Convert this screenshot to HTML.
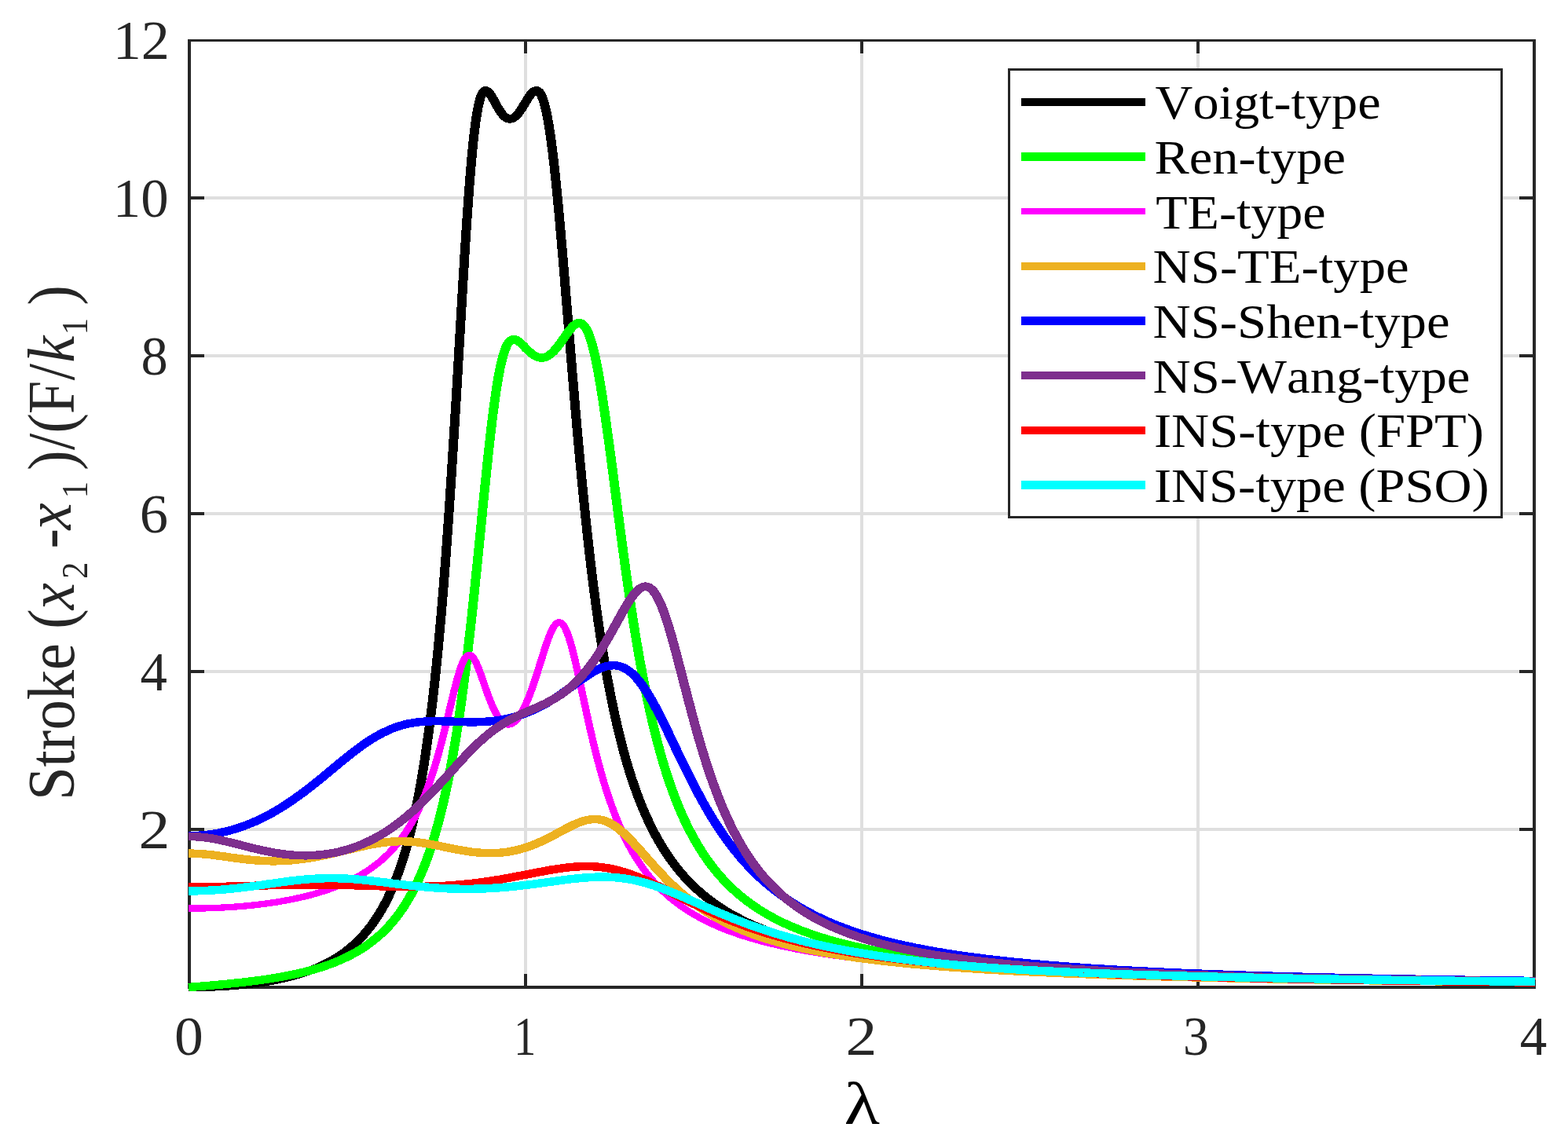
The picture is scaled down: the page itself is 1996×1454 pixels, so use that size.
<!DOCTYPE html>
<html lang="en"><head><meta charset="utf-8"><title>Stroke frequency response</title>
<style>html,body{margin:0;padding:0;background:#fff}svg{display:block}text{font-family:"Liberation Serif","DejaVu Serif",serif}</style></head><body>
<svg width="1996" height="1454" viewBox="0 0 1996 1454">
<rect x="0" y="0" width="1996" height="1454" fill="#ffffff"/>
<g fill="#dfdfdf" shape-rendering="crispEdges"><rect x="667" y="53" width="4" height="1202"/><rect x="1095" y="53" width="4" height="1202"/><rect x="1523" y="53" width="4" height="1202"/><rect x="243" y="1054" width="1708" height="4"/><rect x="243" y="853" width="1708" height="4"/><rect x="243" y="652" width="1708" height="4"/><rect x="243" y="451" width="1708" height="4"/><rect x="243" y="250" width="1708" height="4"/></g>
<g fill="#262626" shape-rendering="crispEdges"><rect x="239" y="50" width="4" height="1209"/><rect x="1951" y="50" width="4" height="1209"/><rect x="239" y="50" width="1716" height="3"/><rect x="239" y="1255" width="1716" height="4"/><rect x="667" y="1240" width="4" height="15"/><rect x="667" y="53" width="4" height="15"/><rect x="1095" y="1240" width="4" height="15"/><rect x="1095" y="53" width="4" height="15"/><rect x="1523" y="1240" width="4" height="15"/><rect x="1523" y="53" width="4" height="15"/><rect x="243" y="1054" width="17" height="4"/><rect x="1934" y="1054" width="17" height="4"/><rect x="243" y="853" width="17" height="4"/><rect x="1934" y="853" width="17" height="4"/><rect x="243" y="652" width="17" height="4"/><rect x="1934" y="652" width="17" height="4"/><rect x="243" y="451" width="17" height="4"/><rect x="1934" y="451" width="17" height="4"/><rect x="243" y="250" width="17" height="4"/><rect x="1934" y="250" width="17" height="4"/></g>
<g fill="none" stroke-linejoin="round" stroke-linecap="butt" shape-rendering="crispEdges" transform="scale(1.14 1)">
<polyline stroke="#000000" stroke-width="10.5" points="210.5,1257.0 211.4,1257.0 212.9,1257.0 214.4,1257.0 215.9,1257.0 217.4,1257.0 218.9,1257.0 220.4,1256.9 221.9,1256.9 223.4,1256.9 224.9,1256.8 226.4,1256.8 227.9,1256.8 229.4,1256.7 230.9,1256.7 232.4,1256.6 233.9,1256.6 235.4,1256.5 236.9,1256.4 238.4,1256.4 239.9,1256.3 241.4,1256.2 242.9,1256.1 244.4,1256.0 245.9,1256.0 247.4,1255.9 248.9,1255.8 250.4,1255.7 252.0,1255.5 253.5,1255.4 255.0,1255.3 256.5,1255.2 258.0,1255.1 259.5,1254.9 261.0,1254.8 262.5,1254.7 264.0,1254.5 265.5,1254.4 267.0,1254.2 268.5,1254.0 270.0,1253.9 271.5,1253.7 273.0,1253.5 274.5,1253.3 276.0,1253.2 277.5,1253.0 279.0,1252.8 280.5,1252.6 282.0,1252.3 283.5,1252.1 285.0,1251.9 286.5,1251.7 288.0,1251.4 289.5,1251.2 291.0,1250.9 292.5,1250.7 294.0,1250.4 295.5,1250.2 297.0,1249.9 298.5,1249.6 300.0,1249.3 301.5,1249.0 303.0,1248.7 304.5,1248.4 306.0,1248.1 307.5,1247.7 309.0,1247.4 310.5,1247.0 312.0,1246.7 313.5,1246.3 315.0,1245.9 316.5,1245.6 318.0,1245.2 319.5,1244.8 321.0,1244.3 322.5,1243.9 324.0,1243.5 325.5,1243.0 327.0,1242.6 328.5,1242.1 330.0,1241.6 331.5,1241.1 333.0,1240.6 334.5,1240.1 336.0,1239.6 337.6,1239.0 339.1,1238.5 340.6,1237.9 342.1,1237.3 343.6,1236.7 345.1,1236.1 346.6,1235.5 348.1,1234.8 349.6,1234.1 351.1,1233.5 352.6,1232.8 354.1,1232.0 355.6,1231.3 357.1,1230.6 358.6,1229.8 360.1,1229.0 361.6,1228.2 363.1,1227.3 364.6,1226.5 366.1,1225.6 367.6,1224.7 369.1,1223.7 370.6,1222.8 372.1,1221.8 373.6,1220.8 375.1,1219.8 376.6,1218.7 378.1,1217.6 379.6,1216.5 381.1,1215.3 382.6,1214.1 384.1,1212.9 385.6,1211.6 387.1,1210.3 388.6,1209.0 390.1,1207.6 391.6,1206.2 393.1,1204.7 394.6,1203.2 396.1,1201.7 397.6,1200.1 399.1,1198.5 400.6,1196.8 402.1,1195.0 403.6,1193.2 405.1,1191.4 406.6,1189.5 408.1,1187.5 409.6,1185.5 411.1,1183.4 412.6,1181.2 414.1,1179.0 415.6,1176.7 417.1,1174.3 418.6,1171.8 420.1,1169.2 421.6,1166.6 423.2,1163.8 424.7,1161.0 426.2,1158.1 427.7,1155.1 429.2,1151.9 430.7,1148.6 432.2,1145.3 433.7,1141.8 435.2,1138.1 436.7,1134.4 438.2,1130.5 439.7,1126.4 441.2,1122.2 442.7,1117.8 444.2,1113.2 445.7,1108.5 447.2,1103.6 448.7,1098.4 450.2,1093.1 451.7,1087.5 453.2,1081.7 454.7,1075.7 456.2,1069.4 457.7,1062.8 459.2,1055.9 460.7,1048.7 462.2,1041.2 463.7,1033.4 465.2,1025.2 466.7,1016.7 468.2,1007.7 469.7,998.3 471.2,988.5 472.7,978.2 474.2,967.4 475.7,956.1 477.2,944.3 478.7,931.8 480.2,918.8 481.7,905.1 483.2,890.8 484.7,875.7 486.2,859.9 487.7,843.3 489.2,826.0 490.7,807.7 492.2,788.7 493.7,768.7 495.2,747.8 496.7,725.9 498.2,703.1 499.7,679.4 501.2,654.7 502.7,629.2 504.2,602.7 505.7,575.5 507.2,547.5 508.8,519.0 510.3,489.9 511.8,460.5 513.3,431.1 514.8,401.7 516.3,372.6 517.8,344.1 519.3,316.5 520.8,290.0 522.3,264.9 523.8,241.4 525.3,219.7 526.8,200.0 528.3,182.5 529.8,167.1 531.3,153.9 532.8,142.9 534.3,133.9 535.8,126.9 537.3,121.7 538.8,118.2 540.3,116.1 541.8,115.3 543.3,115.5 544.8,116.6 546.3,118.4 547.8,120.7 549.3,123.4 550.8,126.4 552.3,129.5 553.8,132.6 555.3,135.7 556.8,138.6 558.3,141.3 559.8,143.8 561.3,146.0 562.8,147.8 564.3,149.3 565.8,150.4 567.3,151.1 568.8,151.5 570.3,151.4 571.8,151.0 573.3,150.2 574.8,149.0 576.3,147.5 577.8,145.7 579.3,143.6 580.8,141.2 582.3,138.7 583.8,136.0 585.3,133.2 586.8,130.4 588.3,127.5 589.8,124.8 591.3,122.3 592.8,120.0 594.4,118.0 595.9,116.5 597.4,115.6 598.9,115.2 600.4,115.7 601.9,116.9 603.4,119.1 604.9,122.4 606.4,126.7 607.9,132.2 609.4,139.0 610.9,147.0 612.4,156.3 613.9,167.0 615.4,178.9 616.9,192.1 618.4,206.5 619.9,222.0 621.4,238.6 622.9,256.1 624.4,274.5 625.9,293.6 627.4,313.3 628.9,333.5 630.4,354.0 631.9,374.9 633.4,395.8 634.9,416.8 636.4,437.8 637.9,458.7 639.4,479.3 640.9,499.7 642.4,519.7 643.9,539.4 645.4,558.7 646.9,577.6 648.4,595.9 649.9,613.9 651.4,631.3 652.9,648.2 654.4,664.6 655.9,680.5 657.4,695.9 658.9,710.9 660.4,725.3 661.9,739.3 663.4,752.8 664.9,765.8 666.4,778.4 667.9,790.6 669.4,802.3 670.9,813.7 672.4,824.6 673.9,835.2 675.4,845.4 676.9,855.3 678.4,864.8 680.0,874.0 681.5,882.9 683.0,891.5 684.5,899.8 686.0,907.9 687.5,915.6 689.0,923.1 690.5,930.4 692.0,937.4 693.5,944.2 695.0,950.8 696.5,957.2 698.0,963.4 699.5,969.3 701.0,975.1 702.5,980.8 704.0,986.2 705.5,991.5 707.0,996.6 708.5,1001.6 710.0,1006.4 711.5,1011.1 713.0,1015.7 714.5,1020.1 716.0,1024.4 717.5,1028.5 719.0,1032.6 720.5,1036.5 722.0,1040.4 723.5,1044.1 725.0,1047.7 726.5,1051.3 728.0,1054.7 729.5,1058.1 731.0,1061.3 732.5,1064.5 734.0,1067.6 735.5,1070.6 737.0,1073.6 738.5,1076.4 740.0,1079.2 741.5,1082.0 743.0,1084.6 744.5,1087.2 746.0,1089.8 747.5,1092.2 749.0,1094.6 750.5,1097.0 752.0,1099.3 753.5,1101.6 755.0,1103.8 756.5,1105.9 758.0,1108.0 759.5,1110.1 761.0,1112.1 762.5,1114.1 764.0,1116.0 765.6,1117.9 767.1,1119.7 768.6,1121.5 770.1,1123.3 771.6,1125.0 773.1,1126.7 774.6,1128.4 776.1,1130.0 777.6,1131.6 779.1,1133.2 780.6,1134.7 782.1,1136.2 783.6,1137.7 785.1,1139.1 786.6,1140.5 788.1,1141.9 789.6,1143.3 791.1,1144.6 792.6,1145.9 794.1,1147.2 795.6,1148.4 797.1,1149.7 798.6,1150.9 800.1,1152.1 801.6,1153.3 803.1,1154.4 804.6,1155.5 806.1,1156.6 807.6,1157.7 809.1,1158.8 810.6,1159.9 812.1,1160.9 813.6,1161.9 815.1,1162.9 816.6,1163.9 818.1,1164.8 819.6,1165.8 821.1,1166.7 822.6,1167.6 824.1,1168.5 825.6,1169.4 827.1,1170.3 828.6,1171.2 830.1,1172.0 831.6,1172.8 833.1,1173.7 834.6,1174.5 836.1,1175.3 837.6,1176.0 839.1,1176.8 840.6,1177.6 842.1,1178.3 843.6,1179.1 845.1,1179.8 846.6,1180.5 848.1,1181.2 849.6,1181.9 851.2,1182.6 852.7,1183.2 854.2,1183.9 855.7,1184.6 857.2,1185.2 858.7,1185.8 860.2,1186.5 861.7,1187.1 863.2,1187.7 864.7,1188.3 866.2,1188.9 867.7,1189.4 869.2,1190.0 870.7,1190.6 872.2,1191.1 873.7,1191.7 875.2,1192.2 876.7,1192.8 878.2,1193.3 879.7,1193.8 881.2,1194.3 882.7,1194.8 884.2,1195.3 885.7,1195.8 887.2,1196.3 888.7,1196.8 890.2,1197.3 891.7,1197.8 893.2,1198.2 894.7,1198.7 896.2,1199.1 897.7,1199.6 899.2,1200.0 900.7,1200.5 902.2,1200.9 903.7,1201.3 905.2,1201.7 906.7,1202.1 908.2,1202.6 909.7,1203.0 911.2,1203.4 912.7,1203.8 914.2,1204.1 915.7,1204.5 917.2,1204.9 918.7,1205.3 920.2,1205.7 921.7,1206.0 923.2,1206.4 924.7,1206.7 926.2,1207.1 927.7,1207.5 929.2,1207.8 930.7,1208.1 932.2,1208.5 933.7,1208.8 935.2,1209.2 936.8,1209.5 938.3,1209.8 939.8,1210.1 941.3,1210.4 942.8,1210.8 944.3,1211.1 945.8,1211.4 947.3,1211.7 948.8,1212.0 950.3,1212.3 951.8,1212.6 953.3,1212.9 954.8,1213.2 956.3,1213.4 957.8,1213.7 959.3,1214.0 960.8,1214.3 962.3,1214.5 963.8,1214.8 965.3,1215.1 966.8,1215.4 968.3,1215.6 969.8,1215.9 971.3,1216.1 972.8,1216.4 974.3,1216.6 975.8,1216.9 977.3,1217.1 978.8,1217.4 980.3,1217.6 981.8,1217.9 983.3,1218.1 984.8,1218.3 986.3,1218.6 987.8,1218.8 989.3,1219.0 990.8,1219.2 992.3,1219.5 993.8,1219.7 995.3,1219.9 996.8,1220.1 998.3,1220.3 999.8,1220.6 1001.3,1220.8 1002.8,1221.0 1004.3,1221.2 1005.8,1221.4 1007.3,1221.6 1008.8,1221.8 1010.3,1222.0 1011.8,1222.2 1013.3,1222.4 1014.8,1222.6 1016.3,1222.8 1017.8,1223.0 1019.3,1223.2 1020.8,1223.3 1022.4,1223.5 1023.9,1223.7 1025.4,1223.9 1026.9,1224.1 1028.4,1224.3 1029.9,1224.4 1031.4,1224.6 1032.9,1224.8 1034.4,1225.0 1035.9,1225.1 1037.4,1225.3 1038.9,1225.5 1040.4,1225.6 1041.9,1225.8 1043.4,1226.0 1044.9,1226.1 1046.4,1226.3 1047.9,1226.5 1049.4,1226.6 1050.9,1226.8 1052.4,1226.9 1053.9,1227.1 1055.4,1227.2 1056.9,1227.4 1058.4,1227.5 1059.9,1227.7 1061.4,1227.8 1062.9,1228.0 1064.4,1228.1 1065.9,1228.3 1067.4,1228.4 1068.9,1228.6 1070.4,1228.7 1071.9,1228.9 1073.4,1229.0 1074.9,1229.1 1076.4,1229.3 1077.9,1229.4 1079.4,1229.5 1080.9,1229.7 1082.4,1229.8 1083.9,1229.9 1085.4,1230.1 1086.9,1230.2 1088.4,1230.3 1089.9,1230.5 1091.4,1230.6 1092.9,1230.7 1094.4,1230.8 1095.9,1231.0 1097.4,1231.1 1098.9,1231.2 1100.4,1231.3 1101.9,1231.4 1103.4,1231.6 1104.9,1231.7 1106.4,1231.8 1108.0,1231.9 1109.5,1232.0 1111.0,1232.2 1112.5,1232.3 1114.0,1232.4 1115.5,1232.5 1117.0,1232.6 1118.5,1232.7 1120.0,1232.8 1121.5,1232.9 1123.0,1233.0 1124.5,1233.2 1126.0,1233.3 1127.5,1233.4 1129.0,1233.5 1130.5,1233.6 1132.0,1233.7 1133.5,1233.8 1135.0,1233.9 1136.5,1234.0 1138.0,1234.1 1139.5,1234.2 1141.0,1234.3 1142.5,1234.4 1144.0,1234.5 1145.5,1234.6 1147.0,1234.7 1148.5,1234.8 1150.0,1234.9 1151.5,1235.0 1153.0,1235.1 1154.5,1235.2 1156.0,1235.3 1157.5,1235.3 1159.0,1235.4 1160.5,1235.5 1162.0,1235.6 1163.5,1235.7 1165.0,1235.8 1166.5,1235.9 1168.0,1236.0 1169.5,1236.1 1171.0,1236.1 1172.5,1236.2 1174.0,1236.3 1175.5,1236.4 1177.0,1236.5 1178.5,1236.6 1180.0,1236.7 1181.5,1236.7 1183.0,1236.8 1184.5,1236.9 1186.0,1237.0 1187.5,1237.1 1189.0,1237.1 1190.5,1237.2 1192.0,1237.3 1193.6,1237.4 1195.1,1237.5 1196.6,1237.5 1198.1,1237.6 1199.6,1237.7 1201.1,1237.8 1202.6,1237.8 1204.1,1237.9 1205.6,1238.0 1207.1,1238.1 1208.6,1238.1 1210.1,1238.2 1211.6,1238.3 1213.1,1238.4 1214.6,1238.4 1216.1,1238.5 1217.6,1238.6 1219.1,1238.7 1220.6,1238.7 1222.1,1238.8 1223.6,1238.9 1225.1,1238.9 1226.6,1239.0 1228.1,1239.1 1229.6,1239.1 1231.1,1239.2 1232.6,1239.3 1234.1,1239.3 1235.6,1239.4 1237.1,1239.5 1238.6,1239.5 1240.1,1239.6 1241.6,1239.7 1243.1,1239.7 1244.6,1239.8 1246.1,1239.9 1247.6,1239.9 1249.1,1240.0 1250.6,1240.1 1252.1,1240.1 1253.6,1240.2 1255.1,1240.2 1256.6,1240.3 1258.1,1240.4 1259.6,1240.4 1261.1,1240.5 1262.6,1240.5 1264.1,1240.6 1265.6,1240.7 1267.1,1240.7 1268.6,1240.8 1270.1,1240.8 1271.6,1240.9 1273.1,1240.9 1274.6,1241.0 1276.1,1241.1 1277.6,1241.1 1279.2,1241.2 1280.7,1241.2 1282.2,1241.3 1283.7,1241.3 1285.2,1241.4 1286.7,1241.4 1288.2,1241.5 1289.7,1241.6 1291.2,1241.6 1292.7,1241.7 1294.2,1241.7 1295.7,1241.8 1297.2,1241.8 1298.7,1241.9 1300.2,1241.9 1301.7,1242.0 1303.2,1242.0 1304.7,1242.1 1306.2,1242.1 1307.7,1242.2 1309.2,1242.2 1310.7,1242.3 1312.2,1242.3 1313.7,1242.4 1315.2,1242.4 1316.7,1242.5 1318.2,1242.5 1319.7,1242.6 1321.2,1242.6 1322.7,1242.7 1324.2,1242.7 1325.7,1242.8 1327.2,1242.8 1328.7,1242.9 1330.2,1242.9 1331.7,1243.0 1333.2,1243.0 1334.7,1243.0 1336.2,1243.1 1337.7,1243.1 1339.2,1243.2 1340.7,1243.2 1342.2,1243.3 1343.7,1243.3 1345.2,1243.4 1346.7,1243.4 1348.2,1243.5 1349.7,1243.5 1351.2,1243.5 1352.7,1243.6 1354.2,1243.6 1355.7,1243.7 1357.2,1243.7 1358.7,1243.8 1360.2,1243.8 1361.7,1243.8 1363.2,1243.9 1364.8,1243.9 1366.3,1244.0 1367.8,1244.0 1369.3,1244.0 1370.8,1244.1 1372.3,1244.1 1373.8,1244.2 1375.3,1244.2 1376.8,1244.2 1378.3,1244.3 1379.8,1244.3 1381.3,1244.4 1382.8,1244.4 1384.3,1244.4 1385.8,1244.5 1387.3,1244.5 1388.8,1244.6 1390.3,1244.6 1391.8,1244.6 1393.3,1244.7 1394.8,1244.7 1396.3,1244.7 1397.8,1244.8 1399.3,1244.8 1400.8,1244.9 1402.3,1244.9 1403.8,1244.9 1405.3,1245.0 1406.8,1245.0 1408.3,1245.0 1409.8,1245.1 1411.3,1245.1 1412.8,1245.1 1414.3,1245.2 1415.8,1245.2 1417.3,1245.3 1418.8,1245.3 1420.3,1245.3 1421.8,1245.4 1423.3,1245.4 1424.8,1245.4 1426.3,1245.5 1427.8,1245.5 1429.3,1245.5 1430.8,1245.6 1432.3,1245.6 1433.8,1245.6 1435.3,1245.7 1436.8,1245.7 1438.3,1245.7 1439.8,1245.8 1441.3,1245.8 1442.8,1245.8 1444.3,1245.9 1445.8,1245.9 1447.3,1245.9 1448.8,1246.0 1450.4,1246.0 1451.9,1246.0 1453.4,1246.0 1454.9,1246.1 1456.4,1246.1 1457.9,1246.1 1459.4,1246.2 1460.9,1246.2 1462.4,1246.2 1463.9,1246.3 1465.4,1246.3 1466.9,1246.3 1468.4,1246.4 1469.9,1246.4 1471.4,1246.4 1472.9,1246.4 1474.4,1246.5 1475.9,1246.5 1477.4,1246.5 1478.9,1246.6 1480.4,1246.6 1481.9,1246.6 1483.4,1246.6 1484.9,1246.7 1486.4,1246.7 1487.9,1246.7 1489.4,1246.8 1490.9,1246.8 1492.4,1246.8 1493.9,1246.8 1495.4,1246.9 1496.9,1246.9 1498.4,1246.9 1499.9,1247.0 1501.4,1247.0 1502.9,1247.0 1504.4,1247.0 1505.9,1247.1 1507.4,1247.1 1508.9,1247.1 1510.4,1247.1 1511.9,1247.2 1513.4,1247.2 1514.9,1247.2 1516.4,1247.3 1517.9,1247.3 1519.4,1247.3 1520.9,1247.3 1522.4,1247.4 1523.9,1247.4 1525.4,1247.4 1526.9,1247.4 1528.4,1247.5 1529.9,1247.5 1531.4,1247.5 1532.9,1247.5 1534.4,1247.6 1536.0,1247.6 1537.5,1247.6 1539.0,1247.6 1540.5,1247.7 1542.0,1247.7 1543.5,1247.7 1545.0,1247.7 1546.5,1247.8 1548.0,1247.8 1549.5,1247.8 1551.0,1247.8 1552.5,1247.8 1554.0,1247.9 1555.5,1247.9 1557.0,1247.9 1558.5,1247.9 1560.0,1248.0 1561.5,1248.0 1563.0,1248.0 1564.5,1248.0 1566.0,1248.1 1567.5,1248.1 1569.0,1248.1 1570.5,1248.1 1572.0,1248.1 1573.5,1248.2 1575.0,1248.2 1576.5,1248.2 1578.0,1248.2 1579.5,1248.3 1581.0,1248.3 1582.5,1248.3 1584.0,1248.3 1585.5,1248.3 1587.0,1248.4 1588.5,1248.4 1590.0,1248.4 1591.5,1248.4 1593.0,1248.5 1594.5,1248.5 1596.0,1248.5 1597.5,1248.5 1599.0,1248.5 1600.5,1248.6 1602.0,1248.6 1603.5,1248.6 1605.0,1248.6 1606.5,1248.6 1608.0,1248.7 1609.5,1248.7 1611.0,1248.7 1612.5,1248.7 1614.0,1248.7 1615.5,1248.8 1617.0,1248.8 1618.5,1248.8 1620.0,1248.8 1621.6,1248.8 1623.1,1248.9 1624.6,1248.9 1626.1,1248.9 1627.6,1248.9 1629.1,1248.9 1630.6,1249.0 1632.1,1249.0 1633.6,1249.0 1635.1,1249.0 1636.6,1249.0 1638.1,1249.1 1639.6,1249.1 1641.1,1249.1 1642.6,1249.1 1644.1,1249.1 1645.6,1249.2 1647.1,1249.2 1648.6,1249.2 1650.1,1249.2 1651.6,1249.2 1653.1,1249.2 1654.6,1249.3 1656.1,1249.3 1657.6,1249.3 1659.1,1249.3 1660.6,1249.3 1662.1,1249.4 1663.6,1249.4 1665.1,1249.4 1666.6,1249.4 1668.1,1249.4 1669.6,1249.4 1671.1,1249.5 1672.6,1249.5 1674.1,1249.5 1675.6,1249.5 1677.1,1249.5 1678.6,1249.5 1680.1,1249.6 1681.6,1249.6 1683.1,1249.6 1684.6,1249.6 1686.1,1249.6 1687.6,1249.6 1689.1,1249.7 1690.6,1249.7 1692.1,1249.7 1693.6,1249.7 1695.1,1249.7 1696.6,1249.8 1698.1,1249.8 1699.6,1249.8 1701.1,1249.8 1702.6,1249.8 1704.1,1249.8 1705.6,1249.8 1707.2,1249.9 1708.7,1249.9 1710.2,1249.9 1711.7,1249.9 1713.2,1249.9 1714.0,1249.9"/>
<polyline stroke="#00ff00" stroke-width="10.5" points="210.5,1257.1 211.4,1257.0 212.9,1256.9 214.4,1256.7 215.9,1256.6 217.4,1256.4 218.9,1256.3 220.4,1256.1 221.9,1256.0 223.4,1255.8 224.9,1255.7 226.4,1255.6 227.9,1255.4 229.4,1255.3 230.9,1255.1 232.4,1255.0 233.9,1254.8 235.4,1254.7 236.9,1254.5 238.4,1254.4 239.9,1254.2 241.4,1254.0 242.9,1253.9 244.4,1253.7 245.9,1253.6 247.4,1253.4 248.9,1253.2 250.4,1253.1 252.0,1252.9 253.5,1252.8 255.0,1252.6 256.5,1252.4 258.0,1252.2 259.5,1252.1 261.0,1251.9 262.5,1251.7 264.0,1251.5 265.5,1251.3 267.0,1251.2 268.5,1251.0 270.0,1250.8 271.5,1250.6 273.0,1250.4 274.5,1250.2 276.0,1250.0 277.5,1249.8 279.0,1249.6 280.5,1249.4 282.0,1249.2 283.5,1248.9 285.0,1248.7 286.5,1248.5 288.0,1248.3 289.5,1248.0 291.0,1247.8 292.5,1247.6 294.0,1247.3 295.5,1247.1 297.0,1246.8 298.5,1246.6 300.0,1246.3 301.5,1246.1 303.0,1245.8 304.5,1245.5 306.0,1245.2 307.5,1245.0 309.0,1244.7 310.5,1244.4 312.0,1244.1 313.5,1243.8 315.0,1243.5 316.5,1243.2 318.0,1242.9 319.5,1242.5 321.0,1242.2 322.5,1241.9 324.0,1241.5 325.5,1241.2 327.0,1240.8 328.5,1240.5 330.0,1240.1 331.5,1239.7 333.0,1239.3 334.5,1238.9 336.0,1238.5 337.6,1238.1 339.1,1237.7 340.6,1237.3 342.1,1236.9 343.6,1236.4 345.1,1236.0 346.6,1235.5 348.1,1235.0 349.6,1234.6 351.1,1234.1 352.6,1233.6 354.1,1233.1 355.6,1232.5 357.1,1232.0 358.6,1231.5 360.1,1230.9 361.6,1230.4 363.1,1229.8 364.6,1229.2 366.1,1228.6 367.6,1228.0 369.1,1227.4 370.6,1226.7 372.1,1226.1 373.6,1225.4 375.1,1224.7 376.6,1224.0 378.1,1223.3 379.6,1222.6 381.1,1221.8 382.6,1221.0 384.1,1220.2 385.6,1219.4 387.1,1218.6 388.6,1217.8 390.1,1216.9 391.6,1216.0 393.1,1215.1 394.6,1214.2 396.1,1213.3 397.6,1212.3 399.1,1211.3 400.6,1210.3 402.1,1209.2 403.6,1208.2 405.1,1207.1 406.6,1205.9 408.1,1204.8 409.6,1203.6 411.1,1202.4 412.6,1201.1 414.1,1199.9 415.6,1198.5 417.1,1197.2 418.6,1195.8 420.1,1194.4 421.6,1192.9 423.2,1191.4 424.7,1189.9 426.2,1188.3 427.7,1186.7 429.2,1185.0 430.7,1183.3 432.2,1181.5 433.7,1179.7 435.2,1177.8 436.7,1175.9 438.2,1173.9 439.7,1171.8 441.2,1169.7 442.7,1167.5 444.2,1165.3 445.7,1163.0 447.2,1160.6 448.7,1158.1 450.2,1155.6 451.7,1153.0 453.2,1150.3 454.7,1147.5 456.2,1144.6 457.7,1141.7 459.2,1138.6 460.7,1135.4 462.2,1132.2 463.7,1128.8 465.2,1125.3 466.7,1121.6 468.2,1117.9 469.7,1114.0 471.2,1110.0 472.7,1105.8 474.2,1101.5 475.7,1097.1 477.2,1092.4 478.7,1087.6 480.2,1082.7 481.7,1077.5 483.2,1072.1 484.7,1066.6 486.2,1060.8 487.7,1054.8 489.2,1048.6 490.7,1042.1 492.2,1035.4 493.7,1028.4 495.2,1021.1 496.7,1013.6 498.2,1005.7 499.7,997.6 501.2,989.1 502.7,980.3 504.2,971.1 505.7,961.6 507.2,951.7 508.8,941.4 510.3,930.7 511.8,919.5 513.3,908.0 514.8,896.0 516.3,883.6 517.8,870.8 519.3,857.5 520.8,843.7 522.3,829.5 523.8,814.9 525.3,799.8 526.8,784.3 528.3,768.5 529.8,752.2 531.3,735.7 532.8,718.9 534.3,701.9 535.8,684.7 537.3,667.5 538.8,650.2 540.3,633.1 541.8,616.1 543.3,599.4 544.8,583.2 546.3,567.4 547.8,552.2 549.3,537.6 550.8,523.9 552.3,511.0 553.8,499.1 555.3,488.2 556.8,478.2 558.3,469.3 559.8,461.5 561.3,454.7 562.8,448.9 564.3,444.1 565.8,440.2 567.3,437.1 568.8,434.8 570.3,433.3 571.8,432.4 573.3,432.0 574.8,432.2 576.3,432.7 577.8,433.6 579.3,434.8 580.8,436.2 582.3,437.8 583.8,439.5 585.3,441.2 586.8,443.0 588.3,444.7 589.8,446.4 591.3,448.0 592.8,449.5 594.4,450.8 595.9,452.0 597.4,453.1 598.9,454.0 600.4,454.7 601.9,455.1 603.4,455.4 604.9,455.5 606.4,455.4 607.9,455.1 609.4,454.5 610.9,453.8 612.4,452.8 613.9,451.6 615.4,450.3 616.9,448.8 618.4,447.1 619.9,445.2 621.4,443.2 622.9,441.1 624.4,438.8 625.9,436.5 627.4,434.1 628.9,431.6 630.4,429.2 631.9,426.7 633.4,424.3 634.9,422.0 636.4,419.8 637.9,417.8 639.4,415.9 640.9,414.3 642.4,413.0 643.9,412.0 645.4,411.3 646.9,411.2 648.4,411.4 649.9,412.2 651.4,413.6 652.9,415.6 654.4,418.2 655.9,421.4 657.4,425.4 658.9,430.1 660.4,435.5 661.9,441.6 663.4,448.4 664.9,456.0 666.4,464.3 667.9,473.2 669.4,482.8 670.9,492.9 672.4,503.6 673.9,514.9 675.4,526.5 676.9,538.6 678.4,551.0 680.0,563.7 681.5,576.6 683.0,589.7 684.5,602.9 686.0,616.1 687.5,629.4 689.0,642.7 690.5,655.9 692.0,669.1 693.5,682.1 695.0,694.9 696.5,707.6 698.0,720.1 699.5,732.4 701.0,744.4 702.5,756.2 704.0,767.7 705.5,779.0 707.0,790.0 708.5,800.7 710.0,811.2 711.5,821.4 713.0,831.3 714.5,841.0 716.0,850.4 717.5,859.5 719.0,868.4 720.5,877.1 722.0,885.4 723.5,893.6 725.0,901.5 726.5,909.2 728.0,916.6 729.5,923.8 731.0,930.9 732.5,937.7 734.0,944.3 735.5,950.7 737.0,957.0 738.5,963.0 740.0,968.9 741.5,974.6 743.0,980.2 744.5,985.6 746.0,990.8 747.5,995.9 749.0,1000.8 750.5,1005.6 752.0,1010.3 753.5,1014.8 755.0,1019.3 756.5,1023.6 758.0,1027.7 759.5,1031.8 761.0,1035.8 762.5,1039.6 764.0,1043.4 765.6,1047.0 767.1,1050.6 768.6,1054.0 770.1,1057.4 771.6,1060.7 773.1,1063.9 774.6,1067.0 776.1,1070.1 777.6,1073.1 779.1,1076.0 780.6,1078.8 782.1,1081.5 783.6,1084.2 785.1,1086.9 786.6,1089.4 788.1,1091.9 789.6,1094.4 791.1,1096.8 792.6,1099.1 794.1,1101.4 795.6,1103.6 797.1,1105.8 798.6,1107.9 800.1,1110.0 801.6,1112.1 803.1,1114.1 804.6,1116.0 806.1,1117.9 807.6,1119.8 809.1,1121.6 810.6,1123.4 812.1,1125.2 813.6,1126.9 815.1,1128.6 816.6,1130.2 818.1,1131.8 819.6,1133.4 821.1,1134.9 822.6,1136.5 824.1,1138.0 825.6,1139.4 827.1,1140.8 828.6,1142.2 830.1,1143.6 831.6,1145.0 833.1,1146.3 834.6,1147.6 836.1,1148.9 837.6,1150.1 839.1,1151.3 840.6,1152.6 842.1,1153.7 843.6,1154.9 845.1,1156.0 846.6,1157.2 848.1,1158.3 849.6,1159.3 851.2,1160.4 852.7,1161.4 854.2,1162.5 855.7,1163.5 857.2,1164.5 858.7,1165.4 860.2,1166.4 861.7,1167.3 863.2,1168.3 864.7,1169.2 866.2,1170.1 867.7,1171.0 869.2,1171.8 870.7,1172.7 872.2,1173.5 873.7,1174.3 875.2,1175.2 876.7,1176.0 878.2,1176.7 879.7,1177.5 881.2,1178.3 882.7,1179.0 884.2,1179.8 885.7,1180.5 887.2,1181.2 888.7,1181.9 890.2,1182.6 891.7,1183.3 893.2,1184.0 894.7,1184.7 896.2,1185.3 897.7,1186.0 899.2,1186.6 900.7,1187.2 902.2,1187.8 903.7,1188.4 905.2,1189.0 906.7,1189.6 908.2,1190.2 909.7,1190.8 911.2,1191.4 912.7,1191.9 914.2,1192.5 915.7,1193.0 917.2,1193.6 918.7,1194.1 920.2,1194.6 921.7,1195.1 923.2,1195.6 924.7,1196.1 926.2,1196.6 927.7,1197.1 929.2,1197.6 930.7,1198.1 932.2,1198.6 933.7,1199.0 935.2,1199.5 936.8,1199.9 938.3,1200.4 939.8,1200.8 941.3,1201.3 942.8,1201.7 944.3,1202.1 945.8,1202.5 947.3,1202.9 948.8,1203.4 950.3,1203.8 951.8,1204.2 953.3,1204.6 954.8,1204.9 956.3,1205.3 957.8,1205.7 959.3,1206.1 960.8,1206.5 962.3,1206.8 963.8,1207.2 965.3,1207.6 966.8,1207.9 968.3,1208.3 969.8,1208.6 971.3,1208.9 972.8,1209.3 974.3,1209.6 975.8,1209.9 977.3,1210.3 978.8,1210.6 980.3,1210.9 981.8,1211.2 983.3,1211.5 984.8,1211.9 986.3,1212.2 987.8,1212.5 989.3,1212.8 990.8,1213.1 992.3,1213.4 993.8,1213.6 995.3,1213.9 996.8,1214.2 998.3,1214.5 999.8,1214.8 1001.3,1215.0 1002.8,1215.3 1004.3,1215.6 1005.8,1215.9 1007.3,1216.1 1008.8,1216.4 1010.3,1216.6 1011.8,1216.9 1013.3,1217.1 1014.8,1217.4 1016.3,1217.6 1017.8,1217.9 1019.3,1218.1 1020.8,1218.4 1022.4,1218.6 1023.9,1218.8 1025.4,1219.1 1026.9,1219.3 1028.4,1219.5 1029.9,1219.8 1031.4,1220.0 1032.9,1220.2 1034.4,1220.4 1035.9,1220.7 1037.4,1220.9 1038.9,1221.1 1040.4,1221.3 1041.9,1221.5 1043.4,1221.7 1044.9,1221.9 1046.4,1222.1 1047.9,1222.3 1049.4,1222.5 1050.9,1222.7 1052.4,1222.9 1053.9,1223.1 1055.4,1223.3 1056.9,1223.5 1058.4,1223.7 1059.9,1223.9 1061.4,1224.1 1062.9,1224.2 1064.4,1224.4 1065.9,1224.6 1067.4,1224.8 1068.9,1225.0 1070.4,1225.1 1071.9,1225.3 1073.4,1225.5 1074.9,1225.7 1076.4,1225.8 1077.9,1226.0 1079.4,1226.2 1080.9,1226.3 1082.4,1226.5 1083.9,1226.7 1085.4,1226.8 1086.9,1227.0 1088.4,1227.1 1089.9,1227.3 1091.4,1227.4 1092.9,1227.6 1094.4,1227.8 1095.9,1227.9 1097.4,1228.1 1098.9,1228.2 1100.4,1228.4 1101.9,1228.5 1103.4,1228.6 1104.9,1228.8 1106.4,1228.9 1108.0,1229.1 1109.5,1229.2 1111.0,1229.4 1112.5,1229.5 1114.0,1229.6 1115.5,1229.8 1117.0,1229.9 1118.5,1230.0 1120.0,1230.2 1121.5,1230.3 1123.0,1230.4 1124.5,1230.6 1126.0,1230.7 1127.5,1230.8 1129.0,1231.0 1130.5,1231.1 1132.0,1231.2 1133.5,1231.3 1135.0,1231.5 1136.5,1231.6 1138.0,1231.7 1139.5,1231.8 1141.0,1231.9 1142.5,1232.1 1144.0,1232.2 1145.5,1232.3 1147.0,1232.4 1148.5,1232.5 1150.0,1232.6 1151.5,1232.7 1153.0,1232.9 1154.5,1233.0 1156.0,1233.1 1157.5,1233.2 1159.0,1233.3 1160.5,1233.4 1162.0,1233.5 1163.5,1233.6 1165.0,1233.7 1166.5,1233.8 1168.0,1233.9 1169.5,1234.0 1171.0,1234.1 1172.5,1234.3 1174.0,1234.4 1175.5,1234.5 1177.0,1234.6 1178.5,1234.7 1180.0,1234.8 1181.5,1234.8 1183.0,1234.9 1184.5,1235.0 1186.0,1235.1 1187.5,1235.2 1189.0,1235.3 1190.5,1235.4 1192.0,1235.5 1193.6,1235.6 1195.1,1235.7 1196.6,1235.8 1198.1,1235.9 1199.6,1236.0 1201.1,1236.1 1202.6,1236.2 1204.1,1236.2 1205.6,1236.3 1207.1,1236.4 1208.6,1236.5 1210.1,1236.6 1211.6,1236.7 1213.1,1236.8 1214.6,1236.8 1216.1,1236.9 1217.6,1237.0 1219.1,1237.1 1220.6,1237.2 1222.1,1237.3 1223.6,1237.3 1225.1,1237.4 1226.6,1237.5 1228.1,1237.6 1229.6,1237.7 1231.1,1237.7 1232.6,1237.8 1234.1,1237.9 1235.6,1238.0 1237.1,1238.0 1238.6,1238.1 1240.1,1238.2 1241.6,1238.3 1243.1,1238.3 1244.6,1238.4 1246.1,1238.5 1247.6,1238.6 1249.1,1238.6 1250.6,1238.7 1252.1,1238.8 1253.6,1238.9 1255.1,1238.9 1256.6,1239.0 1258.1,1239.1 1259.6,1239.1 1261.1,1239.2 1262.6,1239.3 1264.1,1239.3 1265.6,1239.4 1267.1,1239.5 1268.6,1239.5 1270.1,1239.6 1271.6,1239.7 1273.1,1239.7 1274.6,1239.8 1276.1,1239.9 1277.6,1239.9 1279.2,1240.0 1280.7,1240.1 1282.2,1240.1 1283.7,1240.2 1285.2,1240.2 1286.7,1240.3 1288.2,1240.4 1289.7,1240.4 1291.2,1240.5 1292.7,1240.6 1294.2,1240.6 1295.7,1240.7 1297.2,1240.7 1298.7,1240.8 1300.2,1240.9 1301.7,1240.9 1303.2,1241.0 1304.7,1241.0 1306.2,1241.1 1307.7,1241.1 1309.2,1241.2 1310.7,1241.3 1312.2,1241.3 1313.7,1241.4 1315.2,1241.4 1316.7,1241.5 1318.2,1241.5 1319.7,1241.6 1321.2,1241.6 1322.7,1241.7 1324.2,1241.8 1325.7,1241.8 1327.2,1241.9 1328.7,1241.9 1330.2,1242.0 1331.7,1242.0 1333.2,1242.1 1334.7,1242.1 1336.2,1242.2 1337.7,1242.2 1339.2,1242.3 1340.7,1242.3 1342.2,1242.4 1343.7,1242.4 1345.2,1242.5 1346.7,1242.5 1348.2,1242.6 1349.7,1242.6 1351.2,1242.7 1352.7,1242.7 1354.2,1242.8 1355.7,1242.8 1357.2,1242.9 1358.7,1242.9 1360.2,1243.0 1361.7,1243.0 1363.2,1243.1 1364.8,1243.1 1366.3,1243.2 1367.8,1243.2 1369.3,1243.2 1370.8,1243.3 1372.3,1243.3 1373.8,1243.4 1375.3,1243.4 1376.8,1243.5 1378.3,1243.5 1379.8,1243.6 1381.3,1243.6 1382.8,1243.6 1384.3,1243.7 1385.8,1243.7 1387.3,1243.8 1388.8,1243.8 1390.3,1243.9 1391.8,1243.9 1393.3,1243.9 1394.8,1244.0 1396.3,1244.0 1397.8,1244.1 1399.3,1244.1 1400.8,1244.2 1402.3,1244.2 1403.8,1244.2 1405.3,1244.3 1406.8,1244.3 1408.3,1244.4 1409.8,1244.4 1411.3,1244.4 1412.8,1244.5 1414.3,1244.5 1415.8,1244.6 1417.3,1244.6 1418.8,1244.6 1420.3,1244.7 1421.8,1244.7 1423.3,1244.7 1424.8,1244.8 1426.3,1244.8 1427.8,1244.9 1429.3,1244.9 1430.8,1244.9 1432.3,1245.0 1433.8,1245.0 1435.3,1245.0 1436.8,1245.1 1438.3,1245.1 1439.8,1245.2 1441.3,1245.2 1442.8,1245.2 1444.3,1245.3 1445.8,1245.3 1447.3,1245.3 1448.8,1245.4 1450.4,1245.4 1451.9,1245.4 1453.4,1245.5 1454.9,1245.5 1456.4,1245.5 1457.9,1245.6 1459.4,1245.6 1460.9,1245.6 1462.4,1245.7 1463.9,1245.7 1465.4,1245.7 1466.9,1245.8 1468.4,1245.8 1469.9,1245.8 1471.4,1245.9 1472.9,1245.9 1474.4,1245.9 1475.9,1246.0 1477.4,1246.0 1478.9,1246.0 1480.4,1246.1 1481.9,1246.1 1483.4,1246.1 1484.9,1246.2 1486.4,1246.2 1487.9,1246.2 1489.4,1246.3 1490.9,1246.3 1492.4,1246.3 1493.9,1246.3 1495.4,1246.4 1496.9,1246.4 1498.4,1246.4 1499.9,1246.5 1501.4,1246.5 1502.9,1246.5 1504.4,1246.6 1505.9,1246.6 1507.4,1246.6 1508.9,1246.6 1510.4,1246.7 1511.9,1246.7 1513.4,1246.7 1514.9,1246.8 1516.4,1246.8 1517.9,1246.8 1519.4,1246.8 1520.9,1246.9 1522.4,1246.9 1523.9,1246.9 1525.4,1247.0 1526.9,1247.0 1528.4,1247.0 1529.9,1247.0 1531.4,1247.1 1532.9,1247.1 1534.4,1247.1 1536.0,1247.2 1537.5,1247.2 1539.0,1247.2 1540.5,1247.2 1542.0,1247.3 1543.5,1247.3 1545.0,1247.3 1546.5,1247.3 1548.0,1247.4 1549.5,1247.4 1551.0,1247.4 1552.5,1247.4 1554.0,1247.5 1555.5,1247.5 1557.0,1247.5 1558.5,1247.5 1560.0,1247.6 1561.5,1247.6 1563.0,1247.6 1564.5,1247.6 1566.0,1247.7 1567.5,1247.7 1569.0,1247.7 1570.5,1247.7 1572.0,1247.8 1573.5,1247.8 1575.0,1247.8 1576.5,1247.8 1578.0,1247.9 1579.5,1247.9 1581.0,1247.9 1582.5,1247.9 1584.0,1248.0 1585.5,1248.0 1587.0,1248.0 1588.5,1248.0 1590.0,1248.1 1591.5,1248.1 1593.0,1248.1 1594.5,1248.1 1596.0,1248.1 1597.5,1248.2 1599.0,1248.2 1600.5,1248.2 1602.0,1248.2 1603.5,1248.3 1605.0,1248.3 1606.5,1248.3 1608.0,1248.3 1609.5,1248.3 1611.0,1248.4 1612.5,1248.4 1614.0,1248.4 1615.5,1248.4 1617.0,1248.5 1618.5,1248.5 1620.0,1248.5 1621.6,1248.5 1623.1,1248.5 1624.6,1248.6 1626.1,1248.6 1627.6,1248.6 1629.1,1248.6 1630.6,1248.6 1632.1,1248.7 1633.6,1248.7 1635.1,1248.7 1636.6,1248.7 1638.1,1248.8 1639.6,1248.8 1641.1,1248.8 1642.6,1248.8 1644.1,1248.8 1645.6,1248.9 1647.1,1248.9 1648.6,1248.9 1650.1,1248.9 1651.6,1248.9 1653.1,1249.0 1654.6,1249.0 1656.1,1249.0 1657.6,1249.0 1659.1,1249.0 1660.6,1249.0 1662.1,1249.1 1663.6,1249.1 1665.1,1249.1 1666.6,1249.1 1668.1,1249.1 1669.6,1249.2 1671.1,1249.2 1672.6,1249.2 1674.1,1249.2 1675.6,1249.2 1677.1,1249.3 1678.6,1249.3 1680.1,1249.3 1681.6,1249.3 1683.1,1249.3 1684.6,1249.3 1686.1,1249.4 1687.6,1249.4 1689.1,1249.4 1690.6,1249.4 1692.1,1249.4 1693.6,1249.5 1695.1,1249.5 1696.6,1249.5 1698.1,1249.5 1699.6,1249.5 1701.1,1249.5 1702.6,1249.6 1704.1,1249.6 1705.6,1249.6 1707.2,1249.6 1708.7,1249.6 1710.2,1249.6 1711.7,1249.7 1713.2,1249.7 1714.0,1249.7"/>
<polyline stroke="#ff00ff" stroke-width="8.3" points="210.5,1156.6 211.4,1156.6 212.9,1156.6 214.4,1156.6 215.9,1156.6 217.4,1156.6 218.9,1156.6 220.4,1156.6 221.9,1156.6 223.4,1156.5 224.9,1156.5 226.4,1156.5 227.9,1156.4 229.4,1156.4 230.9,1156.3 232.4,1156.3 233.9,1156.2 235.4,1156.2 236.9,1156.1 238.4,1156.1 239.9,1156.0 241.4,1155.9 242.9,1155.9 244.4,1155.8 245.9,1155.7 247.4,1155.6 248.9,1155.5 250.4,1155.4 252.0,1155.3 253.5,1155.2 255.0,1155.1 256.5,1155.0 258.0,1154.9 259.5,1154.8 261.0,1154.7 262.5,1154.5 264.0,1154.4 265.5,1154.3 267.0,1154.2 268.5,1154.0 270.0,1153.9 271.5,1153.7 273.0,1153.6 274.5,1153.4 276.0,1153.2 277.5,1153.1 279.0,1152.9 280.5,1152.7 282.0,1152.6 283.5,1152.4 285.0,1152.2 286.5,1152.0 288.0,1151.8 289.5,1151.6 291.0,1151.4 292.5,1151.2 294.0,1150.9 295.5,1150.7 297.0,1150.5 298.5,1150.3 300.0,1150.0 301.5,1149.8 303.0,1149.5 304.5,1149.3 306.0,1149.0 307.5,1148.8 309.0,1148.5 310.5,1148.2 312.0,1147.9 313.5,1147.6 315.0,1147.3 316.5,1147.0 318.0,1146.7 319.5,1146.4 321.0,1146.1 322.5,1145.8 324.0,1145.4 325.5,1145.1 327.0,1144.8 328.5,1144.4 330.0,1144.0 331.5,1143.7 333.0,1143.3 334.5,1142.9 336.0,1142.5 337.6,1142.1 339.1,1141.7 340.6,1141.3 342.1,1140.9 343.6,1140.5 345.1,1140.0 346.6,1139.6 348.1,1139.1 349.6,1138.6 351.1,1138.2 352.6,1137.7 354.1,1137.2 355.6,1136.7 357.1,1136.2 358.6,1135.6 360.1,1135.1 361.6,1134.6 363.1,1134.0 364.6,1133.4 366.1,1132.8 367.6,1132.2 369.1,1131.6 370.6,1131.0 372.1,1130.4 373.6,1129.7 375.1,1129.1 376.6,1128.4 378.1,1127.7 379.6,1127.0 381.1,1126.3 382.6,1125.6 384.1,1124.8 385.6,1124.1 387.1,1123.3 388.6,1122.5 390.1,1121.7 391.6,1120.8 393.1,1120.0 394.6,1119.1 396.1,1118.2 397.6,1117.3 399.1,1116.4 400.6,1115.4 402.1,1114.4 403.6,1113.4 405.1,1112.4 406.6,1111.3 408.1,1110.3 409.6,1109.2 411.1,1108.0 412.6,1106.9 414.1,1105.7 415.6,1104.5 417.1,1103.2 418.6,1101.9 420.1,1100.6 421.6,1099.2 423.2,1097.9 424.7,1096.4 426.2,1095.0 427.7,1093.4 429.2,1091.9 430.7,1090.3 432.2,1088.6 433.7,1087.0 435.2,1085.2 436.7,1083.4 438.2,1081.6 439.7,1079.7 441.2,1077.7 442.7,1075.7 444.2,1073.6 445.7,1071.4 447.2,1069.2 448.7,1066.9 450.2,1064.6 451.7,1062.1 453.2,1059.6 454.7,1056.9 456.2,1054.2 457.7,1051.4 459.2,1048.5 460.7,1045.5 462.2,1042.4 463.7,1039.1 465.2,1035.8 466.7,1032.3 468.2,1028.7 469.7,1025.0 471.2,1021.1 472.7,1017.1 474.2,1012.9 475.7,1008.5 477.2,1004.0 478.7,999.3 480.2,994.5 481.7,989.4 483.2,984.2 484.7,978.8 486.2,973.2 487.7,967.4 489.2,961.4 490.7,955.2 492.2,948.8 493.7,942.3 495.2,935.6 496.7,928.7 498.2,921.7 499.7,914.6 501.2,907.4 502.7,900.2 504.2,893.0 505.7,886.0 507.2,879.0 508.8,872.3 510.3,865.8 511.8,859.7 513.3,854.1 514.8,849.1 516.3,844.6 517.8,840.9 519.3,837.9 520.8,835.7 522.3,834.4 523.8,833.9 525.3,834.2 526.8,835.4 528.3,837.3 529.8,839.8 531.3,843.0 532.8,846.7 534.3,850.9 535.8,855.3 537.3,860.0 538.8,864.9 540.3,869.8 541.8,874.8 543.3,879.6 544.8,884.4 546.3,889.0 547.8,893.3 549.3,897.5 550.8,901.3 552.3,904.9 553.8,908.1 555.3,911.1 556.8,913.7 558.3,915.9 559.8,917.9 561.3,919.5 562.8,920.7 564.3,921.6 565.8,922.2 567.3,922.5 568.8,922.4 570.3,922.0 571.8,921.3 573.3,920.2 574.8,918.9 576.3,917.2 577.8,915.3 579.3,913.0 580.8,910.5 582.3,907.6 583.8,904.5 585.3,901.1 586.8,897.5 588.3,893.6 589.8,889.5 591.3,885.1 592.8,880.5 594.4,875.7 595.9,870.8 597.4,865.6 598.9,860.4 600.4,855.0 601.9,849.5 603.4,844.0 604.9,838.6 606.4,833.1 607.9,827.8 609.4,822.6 610.9,817.6 612.4,812.8 613.9,808.4 615.4,804.4 616.9,800.9 618.4,797.9 619.9,795.5 621.4,793.7 622.9,792.6 624.4,792.2 625.9,792.6 627.4,793.7 628.9,795.6 630.4,798.3 631.9,801.7 633.4,805.8 634.9,810.5 636.4,815.9 637.9,821.8 639.4,828.1 640.9,834.9 642.4,842.0 643.9,849.4 645.4,857.1 646.9,864.8 648.4,872.7 649.9,880.7 651.4,888.7 652.9,896.6 654.4,904.6 655.9,912.4 657.4,920.1 658.9,927.7 660.4,935.1 661.9,942.4 663.4,949.5 664.9,956.5 666.4,963.2 667.9,969.8 669.4,976.2 670.9,982.5 672.4,988.5 673.9,994.4 675.4,1000.0 676.9,1005.6 678.4,1010.9 680.0,1016.1 681.5,1021.1 683.0,1025.9 684.5,1030.6 686.0,1035.2 687.5,1039.6 689.0,1043.9 690.5,1048.0 692.0,1052.0 693.5,1055.9 695.0,1059.7 696.5,1063.4 698.0,1066.9 699.5,1070.3 701.0,1073.7 702.5,1076.9 704.0,1080.1 705.5,1083.1 707.0,1086.1 708.5,1088.9 710.0,1091.7 711.5,1094.5 713.0,1097.1 714.5,1099.7 716.0,1102.2 717.5,1104.6 719.0,1107.0 720.5,1109.3 722.0,1111.5 723.5,1113.7 725.0,1115.8 726.5,1117.9 728.0,1119.9 729.5,1121.9 731.0,1123.8 732.5,1125.7 734.0,1127.5 735.5,1129.3 737.0,1131.0 738.5,1132.7 740.0,1134.4 741.5,1136.0 743.0,1137.6 744.5,1139.2 746.0,1140.7 747.5,1142.2 749.0,1143.6 750.5,1145.0 752.0,1146.4 753.5,1147.8 755.0,1149.1 756.5,1150.4 758.0,1151.7 759.5,1152.9 761.0,1154.1 762.5,1155.3 764.0,1156.5 765.6,1157.7 767.1,1158.8 768.6,1159.9 770.1,1161.0 771.6,1162.0 773.1,1163.1 774.6,1164.1 776.1,1165.1 777.6,1166.1 779.1,1167.0 780.6,1168.0 782.1,1168.9 783.6,1169.8 785.1,1170.7 786.6,1171.6 788.1,1172.5 789.6,1173.3 791.1,1174.1 792.6,1175.0 794.1,1175.8 795.6,1176.6 797.1,1177.3 798.6,1178.1 800.1,1178.9 801.6,1179.6 803.1,1180.3 804.6,1181.1 806.1,1181.8 807.6,1182.5 809.1,1183.1 810.6,1183.8 812.1,1184.5 813.6,1185.1 815.1,1185.8 816.6,1186.4 818.1,1187.0 819.6,1187.6 821.1,1188.2 822.6,1188.8 824.1,1189.4 825.6,1190.0 827.1,1190.6 828.6,1191.1 830.1,1191.7 831.6,1192.2 833.1,1192.8 834.6,1193.3 836.1,1193.8 837.6,1194.3 839.1,1194.8 840.6,1195.3 842.1,1195.8 843.6,1196.3 845.1,1196.8 846.6,1197.3 848.1,1197.7 849.6,1198.2 851.2,1198.7 852.7,1199.1 854.2,1199.6 855.7,1200.0 857.2,1200.4 858.7,1200.9 860.2,1201.3 861.7,1201.7 863.2,1202.1 864.7,1202.5 866.2,1202.9 867.7,1203.3 869.2,1203.7 870.7,1204.1 872.2,1204.5 873.7,1204.8 875.2,1205.2 876.7,1205.6 878.2,1205.9 879.7,1206.3 881.2,1206.6 882.7,1207.0 884.2,1207.3 885.7,1207.7 887.2,1208.0 888.7,1208.4 890.2,1208.7 891.7,1209.0 893.2,1209.3 894.7,1209.7 896.2,1210.0 897.7,1210.3 899.2,1210.6 900.7,1210.9 902.2,1211.2 903.7,1211.5 905.2,1211.8 906.7,1212.1 908.2,1212.4 909.7,1212.7 911.2,1213.0 912.7,1213.2 914.2,1213.5 915.7,1213.8 917.2,1214.1 918.7,1214.3 920.2,1214.6 921.7,1214.8 923.2,1215.1 924.7,1215.4 926.2,1215.6 927.7,1215.9 929.2,1216.1 930.7,1216.4 932.2,1216.6 933.7,1216.9 935.2,1217.1 936.8,1217.3 938.3,1217.6 939.8,1217.8 941.3,1218.0 942.8,1218.3 944.3,1218.5 945.8,1218.7 947.3,1218.9 948.8,1219.2 950.3,1219.4 951.8,1219.6 953.3,1219.8 954.8,1220.0 956.3,1220.2 957.8,1220.4 959.3,1220.6 960.8,1220.8 962.3,1221.0 963.8,1221.2 965.3,1221.4 966.8,1221.6 968.3,1221.8 969.8,1222.0 971.3,1222.2 972.8,1222.4 974.3,1222.6 975.8,1222.8 977.3,1223.0 978.8,1223.1 980.3,1223.3 981.8,1223.5 983.3,1223.7 984.8,1223.9 986.3,1224.0 987.8,1224.2 989.3,1224.4 990.8,1224.6 992.3,1224.7 993.8,1224.9 995.3,1225.1 996.8,1225.2 998.3,1225.4 999.8,1225.5 1001.3,1225.7 1002.8,1225.9 1004.3,1226.0 1005.8,1226.2 1007.3,1226.3 1008.8,1226.5 1010.3,1226.6 1011.8,1226.8 1013.3,1226.9 1014.8,1227.1 1016.3,1227.2 1017.8,1227.4 1019.3,1227.5 1020.8,1227.7 1022.4,1227.8 1023.9,1228.0 1025.4,1228.1 1026.9,1228.2 1028.4,1228.4 1029.9,1228.5 1031.4,1228.7 1032.9,1228.8 1034.4,1228.9 1035.9,1229.1 1037.4,1229.2 1038.9,1229.3 1040.4,1229.5 1041.9,1229.6 1043.4,1229.7 1044.9,1229.8 1046.4,1230.0 1047.9,1230.1 1049.4,1230.2 1050.9,1230.3 1052.4,1230.5 1053.9,1230.6 1055.4,1230.7 1056.9,1230.8 1058.4,1230.9 1059.9,1231.1 1061.4,1231.2 1062.9,1231.3 1064.4,1231.4 1065.9,1231.5 1067.4,1231.6 1068.9,1231.8 1070.4,1231.9 1071.9,1232.0 1073.4,1232.1 1074.9,1232.2 1076.4,1232.3 1077.9,1232.4 1079.4,1232.5 1080.9,1232.6 1082.4,1232.7 1083.9,1232.8 1085.4,1232.9 1086.9,1233.1 1088.4,1233.2 1089.9,1233.3 1091.4,1233.4 1092.9,1233.5 1094.4,1233.6 1095.9,1233.7 1097.4,1233.8 1098.9,1233.9 1100.4,1234.0 1101.9,1234.1 1103.4,1234.2 1104.9,1234.2 1106.4,1234.3 1108.0,1234.4 1109.5,1234.5 1111.0,1234.6 1112.5,1234.7 1114.0,1234.8 1115.5,1234.9 1117.0,1235.0 1118.5,1235.1 1120.0,1235.2 1121.5,1235.3 1123.0,1235.3 1124.5,1235.4 1126.0,1235.5 1127.5,1235.6 1129.0,1235.7 1130.5,1235.8 1132.0,1235.9 1133.5,1236.0 1135.0,1236.0 1136.5,1236.1 1138.0,1236.2 1139.5,1236.3 1141.0,1236.4 1142.5,1236.4 1144.0,1236.5 1145.5,1236.6 1147.0,1236.7 1148.5,1236.8 1150.0,1236.8 1151.5,1236.9 1153.0,1237.0 1154.5,1237.1 1156.0,1237.2 1157.5,1237.2 1159.0,1237.3 1160.5,1237.4 1162.0,1237.5 1163.5,1237.5 1165.0,1237.6 1166.5,1237.7 1168.0,1237.8 1169.5,1237.8 1171.0,1237.9 1172.5,1238.0 1174.0,1238.0 1175.5,1238.1 1177.0,1238.2 1178.5,1238.3 1180.0,1238.3 1181.5,1238.4 1183.0,1238.5 1184.5,1238.5 1186.0,1238.6 1187.5,1238.7 1189.0,1238.7 1190.5,1238.8 1192.0,1238.9 1193.6,1238.9 1195.1,1239.0 1196.6,1239.1 1198.1,1239.1 1199.6,1239.2 1201.1,1239.3 1202.6,1239.3 1204.1,1239.4 1205.6,1239.5 1207.1,1239.5 1208.6,1239.6 1210.1,1239.6 1211.6,1239.7 1213.1,1239.8 1214.6,1239.8 1216.1,1239.9 1217.6,1239.9 1219.1,1240.0 1220.6,1240.1 1222.1,1240.1 1223.6,1240.2 1225.1,1240.2 1226.6,1240.3 1228.1,1240.4 1229.6,1240.4 1231.1,1240.5 1232.6,1240.5 1234.1,1240.6 1235.6,1240.6 1237.1,1240.7 1238.6,1240.8 1240.1,1240.8 1241.6,1240.9 1243.1,1240.9 1244.6,1241.0 1246.1,1241.0 1247.6,1241.1 1249.1,1241.1 1250.6,1241.2 1252.1,1241.3 1253.6,1241.3 1255.1,1241.4 1256.6,1241.4 1258.1,1241.5 1259.6,1241.5 1261.1,1241.6 1262.6,1241.6 1264.1,1241.7 1265.6,1241.7 1267.1,1241.8 1268.6,1241.8 1270.1,1241.9 1271.6,1241.9 1273.1,1242.0 1274.6,1242.0 1276.1,1242.1 1277.6,1242.1 1279.2,1242.2 1280.7,1242.2 1282.2,1242.3 1283.7,1242.3 1285.2,1242.4 1286.7,1242.4 1288.2,1242.5 1289.7,1242.5 1291.2,1242.5 1292.7,1242.6 1294.2,1242.6 1295.7,1242.7 1297.2,1242.7 1298.7,1242.8 1300.2,1242.8 1301.7,1242.9 1303.2,1242.9 1304.7,1243.0 1306.2,1243.0 1307.7,1243.0 1309.2,1243.1 1310.7,1243.1 1312.2,1243.2 1313.7,1243.2 1315.2,1243.3 1316.7,1243.3 1318.2,1243.3 1319.7,1243.4 1321.2,1243.4 1322.7,1243.5 1324.2,1243.5 1325.7,1243.6 1327.2,1243.6 1328.7,1243.6 1330.2,1243.7 1331.7,1243.7 1333.2,1243.8 1334.7,1243.8 1336.2,1243.8 1337.7,1243.9 1339.2,1243.9 1340.7,1244.0 1342.2,1244.0 1343.7,1244.0 1345.2,1244.1 1346.7,1244.1 1348.2,1244.2 1349.7,1244.2 1351.2,1244.2 1352.7,1244.3 1354.2,1244.3 1355.7,1244.3 1357.2,1244.4 1358.7,1244.4 1360.2,1244.5 1361.7,1244.5 1363.2,1244.5 1364.8,1244.6 1366.3,1244.6 1367.8,1244.6 1369.3,1244.7 1370.8,1244.7 1372.3,1244.8 1373.8,1244.8 1375.3,1244.8 1376.8,1244.9 1378.3,1244.9 1379.8,1244.9 1381.3,1245.0 1382.8,1245.0 1384.3,1245.0 1385.8,1245.1 1387.3,1245.1 1388.8,1245.1 1390.3,1245.2 1391.8,1245.2 1393.3,1245.2 1394.8,1245.3 1396.3,1245.3 1397.8,1245.3 1399.3,1245.4 1400.8,1245.4 1402.3,1245.4 1403.8,1245.5 1405.3,1245.5 1406.8,1245.5 1408.3,1245.6 1409.8,1245.6 1411.3,1245.6 1412.8,1245.7 1414.3,1245.7 1415.8,1245.7 1417.3,1245.8 1418.8,1245.8 1420.3,1245.8 1421.8,1245.9 1423.3,1245.9 1424.8,1245.9 1426.3,1245.9 1427.8,1246.0 1429.3,1246.0 1430.8,1246.0 1432.3,1246.1 1433.8,1246.1 1435.3,1246.1 1436.8,1246.2 1438.3,1246.2 1439.8,1246.2 1441.3,1246.2 1442.8,1246.3 1444.3,1246.3 1445.8,1246.3 1447.3,1246.4 1448.8,1246.4 1450.4,1246.4 1451.9,1246.4 1453.4,1246.5 1454.9,1246.5 1456.4,1246.5 1457.9,1246.6 1459.4,1246.6 1460.9,1246.6 1462.4,1246.6 1463.9,1246.7 1465.4,1246.7 1466.9,1246.7 1468.4,1246.8 1469.9,1246.8 1471.4,1246.8 1472.9,1246.8 1474.4,1246.9 1475.9,1246.9 1477.4,1246.9 1478.9,1246.9 1480.4,1247.0 1481.9,1247.0 1483.4,1247.0 1484.9,1247.0 1486.4,1247.1 1487.9,1247.1 1489.4,1247.1 1490.9,1247.1 1492.4,1247.2 1493.9,1247.2 1495.4,1247.2 1496.9,1247.2 1498.4,1247.3 1499.9,1247.3 1501.4,1247.3 1502.9,1247.3 1504.4,1247.4 1505.9,1247.4 1507.4,1247.4 1508.9,1247.4 1510.4,1247.5 1511.9,1247.5 1513.4,1247.5 1514.9,1247.5 1516.4,1247.6 1517.9,1247.6 1519.4,1247.6 1520.9,1247.6 1522.4,1247.7 1523.9,1247.7 1525.4,1247.7 1526.9,1247.7 1528.4,1247.8 1529.9,1247.8 1531.4,1247.8 1532.9,1247.8 1534.4,1247.8 1536.0,1247.9 1537.5,1247.9 1539.0,1247.9 1540.5,1247.9 1542.0,1248.0 1543.5,1248.0 1545.0,1248.0 1546.5,1248.0 1548.0,1248.0 1549.5,1248.1 1551.0,1248.1 1552.5,1248.1 1554.0,1248.1 1555.5,1248.2 1557.0,1248.2 1558.5,1248.2 1560.0,1248.2 1561.5,1248.2 1563.0,1248.3 1564.5,1248.3 1566.0,1248.3 1567.5,1248.3 1569.0,1248.4 1570.5,1248.4 1572.0,1248.4 1573.5,1248.4 1575.0,1248.4 1576.5,1248.5 1578.0,1248.5 1579.5,1248.5 1581.0,1248.5 1582.5,1248.5 1584.0,1248.6 1585.5,1248.6 1587.0,1248.6 1588.5,1248.6 1590.0,1248.6 1591.5,1248.7 1593.0,1248.7 1594.5,1248.7 1596.0,1248.7 1597.5,1248.7 1599.0,1248.8 1600.5,1248.8 1602.0,1248.8 1603.5,1248.8 1605.0,1248.8 1606.5,1248.8 1608.0,1248.9 1609.5,1248.9 1611.0,1248.9 1612.5,1248.9 1614.0,1248.9 1615.5,1249.0 1617.0,1249.0 1618.5,1249.0 1620.0,1249.0 1621.6,1249.0 1623.1,1249.1 1624.6,1249.1 1626.1,1249.1 1627.6,1249.1 1629.1,1249.1 1630.6,1249.1 1632.1,1249.2 1633.6,1249.2 1635.1,1249.2 1636.6,1249.2 1638.1,1249.2 1639.6,1249.3 1641.1,1249.3 1642.6,1249.3 1644.1,1249.3 1645.6,1249.3 1647.1,1249.3 1648.6,1249.4 1650.1,1249.4 1651.6,1249.4 1653.1,1249.4 1654.6,1249.4 1656.1,1249.4 1657.6,1249.5 1659.1,1249.5 1660.6,1249.5 1662.1,1249.5 1663.6,1249.5 1665.1,1249.5 1666.6,1249.6 1668.1,1249.6 1669.6,1249.6 1671.1,1249.6 1672.6,1249.6 1674.1,1249.6 1675.6,1249.7 1677.1,1249.7 1678.6,1249.7 1680.1,1249.7 1681.6,1249.7 1683.1,1249.7 1684.6,1249.8 1686.1,1249.8 1687.6,1249.8 1689.1,1249.8 1690.6,1249.8 1692.1,1249.8 1693.6,1249.9 1695.1,1249.9 1696.6,1249.9 1698.1,1249.9 1699.6,1249.9 1701.1,1249.9 1702.6,1249.9 1704.1,1250.0 1705.6,1250.0 1707.2,1250.0 1708.7,1250.0 1710.2,1250.0 1711.7,1250.0 1713.2,1250.0 1714.0,1250.1"/>
<polyline stroke="#edb120" stroke-width="10.5" points="210.5,1086.7 211.4,1086.7 212.9,1086.7 214.4,1086.7 215.9,1086.7 217.4,1086.8 218.9,1086.8 220.4,1086.9 221.9,1087.0 223.4,1087.1 224.9,1087.2 226.4,1087.3 227.9,1087.5 229.4,1087.6 230.9,1087.8 232.4,1088.0 233.9,1088.1 235.4,1088.3 236.9,1088.5 238.4,1088.7 239.9,1088.9 241.4,1089.1 242.9,1089.4 244.4,1089.6 245.9,1089.8 247.4,1090.1 248.9,1090.3 250.4,1090.5 252.0,1090.8 253.5,1091.0 255.0,1091.3 256.5,1091.5 258.0,1091.8 259.5,1092.0 261.0,1092.2 262.5,1092.5 264.0,1092.7 265.5,1092.9 267.0,1093.1 268.5,1093.4 270.0,1093.6 271.5,1093.8 273.0,1094.0 274.5,1094.2 276.0,1094.4 277.5,1094.6 279.0,1094.7 280.5,1094.9 282.0,1095.0 283.5,1095.2 285.0,1095.3 286.5,1095.5 288.0,1095.6 289.5,1095.7 291.0,1095.8 292.5,1095.9 294.0,1096.0 295.5,1096.1 297.0,1096.1 298.5,1096.2 300.0,1096.2 301.5,1096.2 303.0,1096.3 304.5,1096.3 306.0,1096.3 307.5,1096.3 309.0,1096.2 310.5,1096.2 312.0,1096.2 313.5,1096.1 315.0,1096.0 316.5,1096.0 318.0,1095.9 319.5,1095.8 321.0,1095.7 322.5,1095.6 324.0,1095.4 325.5,1095.3 327.0,1095.1 328.5,1095.0 330.0,1094.8 331.5,1094.6 333.0,1094.4 334.5,1094.2 336.0,1094.0 337.6,1093.8 339.1,1093.6 340.6,1093.3 342.1,1093.1 343.6,1092.8 345.1,1092.6 346.6,1092.3 348.1,1092.0 349.6,1091.7 351.1,1091.4 352.6,1091.1 354.1,1090.8 355.6,1090.5 357.1,1090.1 358.6,1089.8 360.1,1089.4 361.6,1089.1 363.1,1088.7 364.6,1088.4 366.1,1088.0 367.6,1087.6 369.1,1087.2 370.6,1086.8 372.1,1086.4 373.6,1086.0 375.1,1085.6 376.6,1085.2 378.1,1084.8 379.6,1084.4 381.1,1084.0 382.6,1083.6 384.1,1083.2 385.6,1082.8 387.1,1082.3 388.6,1081.9 390.1,1081.5 391.6,1081.1 393.1,1080.7 394.6,1080.3 396.1,1079.9 397.6,1079.5 399.1,1079.1 400.6,1078.7 402.1,1078.3 403.6,1077.9 405.1,1077.5 406.6,1077.1 408.1,1076.7 409.6,1076.4 411.1,1076.0 412.6,1075.7 414.1,1075.3 415.6,1075.0 417.1,1074.7 418.6,1074.4 420.1,1074.1 421.6,1073.8 423.2,1073.5 424.7,1073.3 426.2,1073.0 427.7,1072.8 429.2,1072.6 430.7,1072.4 432.2,1072.2 433.7,1072.0 435.2,1071.9 436.7,1071.7 438.2,1071.6 439.7,1071.5 441.2,1071.4 442.7,1071.3 444.2,1071.3 445.7,1071.2 447.2,1071.2 448.7,1071.2 450.2,1071.2 451.7,1071.3 453.2,1071.3 454.7,1071.4 456.2,1071.5 457.7,1071.6 459.2,1071.7 460.7,1071.8 462.2,1072.0 463.7,1072.1 465.2,1072.3 466.7,1072.5 468.2,1072.7 469.7,1072.9 471.2,1073.1 472.7,1073.4 474.2,1073.7 475.7,1073.9 477.2,1074.2 478.7,1074.5 480.2,1074.8 481.7,1075.1 483.2,1075.4 484.7,1075.7 486.2,1076.1 487.7,1076.4 489.2,1076.7 490.7,1077.1 492.2,1077.4 493.7,1077.8 495.2,1078.1 496.7,1078.5 498.2,1078.8 499.7,1079.2 501.2,1079.5 502.7,1079.9 504.2,1080.2 505.7,1080.6 507.2,1080.9 508.8,1081.3 510.3,1081.6 511.8,1081.9 513.3,1082.2 514.8,1082.5 516.3,1082.8 517.8,1083.1 519.3,1083.4 520.8,1083.7 522.3,1083.9 523.8,1084.2 525.3,1084.4 526.8,1084.7 528.3,1084.9 529.8,1085.1 531.3,1085.2 532.8,1085.4 534.3,1085.6 535.8,1085.7 537.3,1085.8 538.8,1085.9 540.3,1086.0 541.8,1086.1 543.3,1086.2 544.8,1086.2 546.3,1086.2 547.8,1086.2 549.3,1086.2 550.8,1086.2 552.3,1086.1 553.8,1086.1 555.3,1086.0 556.8,1085.9 558.3,1085.7 559.8,1085.6 561.3,1085.4 562.8,1085.2 564.3,1085.0 565.8,1084.8 567.3,1084.5 568.8,1084.2 570.3,1083.9 571.8,1083.6 573.3,1083.3 574.8,1082.9 576.3,1082.5 577.8,1082.1 579.3,1081.7 580.8,1081.2 582.3,1080.7 583.8,1080.2 585.3,1079.7 586.8,1079.2 588.3,1078.6 589.8,1078.0 591.3,1077.4 592.8,1076.8 594.4,1076.2 595.9,1075.5 597.4,1074.8 598.9,1074.1 600.4,1073.4 601.9,1072.6 603.4,1071.9 604.9,1071.1 606.4,1070.3 607.9,1069.5 609.4,1068.6 610.9,1067.8 612.4,1066.9 613.9,1066.0 615.4,1065.2 616.9,1064.3 618.4,1063.4 619.9,1062.5 621.4,1061.5 622.9,1060.6 624.4,1059.7 625.9,1058.8 627.4,1057.9 628.9,1056.9 630.4,1056.0 631.9,1055.1 633.4,1054.2 634.9,1053.4 636.4,1052.5 637.9,1051.6 639.4,1050.8 640.9,1050.0 642.4,1049.2 643.9,1048.5 645.4,1047.8 646.9,1047.1 648.4,1046.5 649.9,1045.9 651.4,1045.3 652.9,1044.8 654.4,1044.4 655.9,1044.0 657.4,1043.7 658.9,1043.4 660.4,1043.2 661.9,1043.1 663.4,1043.0 664.9,1043.0 666.4,1043.1 667.9,1043.2 669.4,1043.5 670.9,1043.8 672.4,1044.2 673.9,1044.6 675.4,1045.2 676.9,1045.8 678.4,1046.6 680.0,1047.3 681.5,1048.2 683.0,1049.2 684.5,1050.2 686.0,1051.3 687.5,1052.5 689.0,1053.7 690.5,1055.0 692.0,1056.4 693.5,1057.8 695.0,1059.3 696.5,1060.9 698.0,1062.5 699.5,1064.1 701.0,1065.8 702.5,1067.5 704.0,1069.3 705.5,1071.1 707.0,1072.9 708.5,1074.7 710.0,1076.6 711.5,1078.5 713.0,1080.4 714.5,1082.3 716.0,1084.2 717.5,1086.2 719.0,1088.1 720.5,1090.0 722.0,1092.0 723.5,1093.9 725.0,1095.9 726.5,1097.8 728.0,1099.7 729.5,1101.6 731.0,1103.5 732.5,1105.4 734.0,1107.2 735.5,1109.1 737.0,1110.9 738.5,1112.7 740.0,1114.5 741.5,1116.3 743.0,1118.1 744.5,1119.8 746.0,1121.5 747.5,1123.2 749.0,1124.9 750.5,1126.5 752.0,1128.1 753.5,1129.7 755.0,1131.3 756.5,1132.8 758.0,1134.4 759.5,1135.9 761.0,1137.4 762.5,1138.8 764.0,1140.3 765.6,1141.7 767.1,1143.1 768.6,1144.4 770.1,1145.8 771.6,1147.1 773.1,1148.4 774.6,1149.7 776.1,1151.0 777.6,1152.2 779.1,1153.4 780.6,1154.6 782.1,1155.8 783.6,1157.0 785.1,1158.1 786.6,1159.2 788.1,1160.3 789.6,1161.4 791.1,1162.5 792.6,1163.5 794.1,1164.6 795.6,1165.6 797.1,1166.6 798.6,1167.6 800.1,1168.5 801.6,1169.5 803.1,1170.4 804.6,1171.3 806.1,1172.2 807.6,1173.1 809.1,1174.0 810.6,1174.9 812.1,1175.7 813.6,1176.5 815.1,1177.4 816.6,1178.2 818.1,1179.0 819.6,1179.7 821.1,1180.5 822.6,1181.3 824.1,1182.0 825.6,1182.7 827.1,1183.5 828.6,1184.2 830.1,1184.9 831.6,1185.6 833.1,1186.2 834.6,1186.9 836.1,1187.6 837.6,1188.2 839.1,1188.8 840.6,1189.5 842.1,1190.1 843.6,1190.7 845.1,1191.3 846.6,1191.9 848.1,1192.5 849.6,1193.0 851.2,1193.6 852.7,1194.2 854.2,1194.7 855.7,1195.3 857.2,1195.8 858.7,1196.3 860.2,1196.8 861.7,1197.3 863.2,1197.8 864.7,1198.3 866.2,1198.8 867.7,1199.3 869.2,1199.8 870.7,1200.3 872.2,1200.7 873.7,1201.2 875.2,1201.6 876.7,1202.1 878.2,1202.5 879.7,1203.0 881.2,1203.4 882.7,1203.8 884.2,1204.2 885.7,1204.6 887.2,1205.0 888.7,1205.4 890.2,1205.8 891.7,1206.2 893.2,1206.6 894.7,1207.0 896.2,1207.4 897.7,1207.7 899.2,1208.1 900.7,1208.5 902.2,1208.8 903.7,1209.2 905.2,1209.5 906.7,1209.9 908.2,1210.2 909.7,1210.6 911.2,1210.9 912.7,1211.2 914.2,1211.5 915.7,1211.9 917.2,1212.2 918.7,1212.5 920.2,1212.8 921.7,1213.1 923.2,1213.4 924.7,1213.7 926.2,1214.0 927.7,1214.3 929.2,1214.6 930.7,1214.9 932.2,1215.2 933.7,1215.4 935.2,1215.7 936.8,1216.0 938.3,1216.3 939.8,1216.5 941.3,1216.8 942.8,1217.1 944.3,1217.3 945.8,1217.6 947.3,1217.8 948.8,1218.1 950.3,1218.3 951.8,1218.6 953.3,1218.8 954.8,1219.1 956.3,1219.3 957.8,1219.5 959.3,1219.8 960.8,1220.0 962.3,1220.2 963.8,1220.4 965.3,1220.7 966.8,1220.9 968.3,1221.1 969.8,1221.3 971.3,1221.5 972.8,1221.8 974.3,1222.0 975.8,1222.2 977.3,1222.4 978.8,1222.6 980.3,1222.8 981.8,1223.0 983.3,1223.2 984.8,1223.4 986.3,1223.6 987.8,1223.8 989.3,1224.0 990.8,1224.1 992.3,1224.3 993.8,1224.5 995.3,1224.7 996.8,1224.9 998.3,1225.1 999.8,1225.2 1001.3,1225.4 1002.8,1225.6 1004.3,1225.8 1005.8,1225.9 1007.3,1226.1 1008.8,1226.3 1010.3,1226.4 1011.8,1226.6 1013.3,1226.8 1014.8,1226.9 1016.3,1227.1 1017.8,1227.3 1019.3,1227.4 1020.8,1227.6 1022.4,1227.7 1023.9,1227.9 1025.4,1228.0 1026.9,1228.2 1028.4,1228.3 1029.9,1228.5 1031.4,1228.6 1032.9,1228.8 1034.4,1228.9 1035.9,1229.1 1037.4,1229.2 1038.9,1229.4 1040.4,1229.5 1041.9,1229.6 1043.4,1229.8 1044.9,1229.9 1046.4,1230.1 1047.9,1230.2 1049.4,1230.3 1050.9,1230.5 1052.4,1230.6 1053.9,1230.7 1055.4,1230.9 1056.9,1231.0 1058.4,1231.1 1059.9,1231.2 1061.4,1231.4 1062.9,1231.5 1064.4,1231.6 1065.9,1231.7 1067.4,1231.9 1068.9,1232.0 1070.4,1232.1 1071.9,1232.2 1073.4,1232.3 1074.9,1232.4 1076.4,1232.6 1077.9,1232.7 1079.4,1232.8 1080.9,1232.9 1082.4,1233.0 1083.9,1233.1 1085.4,1233.2 1086.9,1233.3 1088.4,1233.5 1089.9,1233.6 1091.4,1233.7 1092.9,1233.8 1094.4,1233.9 1095.9,1234.0 1097.4,1234.1 1098.9,1234.2 1100.4,1234.3 1101.9,1234.4 1103.4,1234.5 1104.9,1234.6 1106.4,1234.7 1108.0,1234.8 1109.5,1234.9 1111.0,1235.0 1112.5,1235.1 1114.0,1235.2 1115.5,1235.3 1117.0,1235.4 1118.5,1235.5 1120.0,1235.6 1121.5,1235.7 1123.0,1235.8 1124.5,1235.8 1126.0,1235.9 1127.5,1236.0 1129.0,1236.1 1130.5,1236.2 1132.0,1236.3 1133.5,1236.4 1135.0,1236.5 1136.5,1236.6 1138.0,1236.6 1139.5,1236.7 1141.0,1236.8 1142.5,1236.9 1144.0,1237.0 1145.5,1237.1 1147.0,1237.1 1148.5,1237.2 1150.0,1237.3 1151.5,1237.4 1153.0,1237.5 1154.5,1237.6 1156.0,1237.6 1157.5,1237.7 1159.0,1237.8 1160.5,1237.9 1162.0,1237.9 1163.5,1238.0 1165.0,1238.1 1166.5,1238.2 1168.0,1238.2 1169.5,1238.3 1171.0,1238.4 1172.5,1238.5 1174.0,1238.5 1175.5,1238.6 1177.0,1238.7 1178.5,1238.8 1180.0,1238.8 1181.5,1238.9 1183.0,1239.0 1184.5,1239.0 1186.0,1239.1 1187.5,1239.2 1189.0,1239.3 1190.5,1239.3 1192.0,1239.4 1193.6,1239.5 1195.1,1239.5 1196.6,1239.6 1198.1,1239.7 1199.6,1239.7 1201.1,1239.8 1202.6,1239.9 1204.1,1239.9 1205.6,1240.0 1207.1,1240.0 1208.6,1240.1 1210.1,1240.2 1211.6,1240.2 1213.1,1240.3 1214.6,1240.4 1216.1,1240.4 1217.6,1240.5 1219.1,1240.5 1220.6,1240.6 1222.1,1240.7 1223.6,1240.7 1225.1,1240.8 1226.6,1240.8 1228.1,1240.9 1229.6,1241.0 1231.1,1241.0 1232.6,1241.1 1234.1,1241.1 1235.6,1241.2 1237.1,1241.3 1238.6,1241.3 1240.1,1241.4 1241.6,1241.4 1243.1,1241.5 1244.6,1241.5 1246.1,1241.6 1247.6,1241.6 1249.1,1241.7 1250.6,1241.7 1252.1,1241.8 1253.6,1241.9 1255.1,1241.9 1256.6,1242.0 1258.1,1242.0 1259.6,1242.1 1261.1,1242.1 1262.6,1242.2 1264.1,1242.2 1265.6,1242.3 1267.1,1242.3 1268.6,1242.4 1270.1,1242.4 1271.6,1242.5 1273.1,1242.5 1274.6,1242.6 1276.1,1242.6 1277.6,1242.7 1279.2,1242.7 1280.7,1242.8 1282.2,1242.8 1283.7,1242.9 1285.2,1242.9 1286.7,1243.0 1288.2,1243.0 1289.7,1243.1 1291.2,1243.1 1292.7,1243.1 1294.2,1243.2 1295.7,1243.2 1297.2,1243.3 1298.7,1243.3 1300.2,1243.4 1301.7,1243.4 1303.2,1243.5 1304.7,1243.5 1306.2,1243.6 1307.7,1243.6 1309.2,1243.6 1310.7,1243.7 1312.2,1243.7 1313.7,1243.8 1315.2,1243.8 1316.7,1243.9 1318.2,1243.9 1319.7,1243.9 1321.2,1244.0 1322.7,1244.0 1324.2,1244.1 1325.7,1244.1 1327.2,1244.1 1328.7,1244.2 1330.2,1244.2 1331.7,1244.3 1333.2,1244.3 1334.7,1244.4 1336.2,1244.4 1337.7,1244.4 1339.2,1244.5 1340.7,1244.5 1342.2,1244.5 1343.7,1244.6 1345.2,1244.6 1346.7,1244.7 1348.2,1244.7 1349.7,1244.7 1351.2,1244.8 1352.7,1244.8 1354.2,1244.9 1355.7,1244.9 1357.2,1244.9 1358.7,1245.0 1360.2,1245.0 1361.7,1245.0 1363.2,1245.1 1364.8,1245.1 1366.3,1245.1 1367.8,1245.2 1369.3,1245.2 1370.8,1245.3 1372.3,1245.3 1373.8,1245.3 1375.3,1245.4 1376.8,1245.4 1378.3,1245.4 1379.8,1245.5 1381.3,1245.5 1382.8,1245.5 1384.3,1245.6 1385.8,1245.6 1387.3,1245.6 1388.8,1245.7 1390.3,1245.7 1391.8,1245.7 1393.3,1245.8 1394.8,1245.8 1396.3,1245.8 1397.8,1245.9 1399.3,1245.9 1400.8,1245.9 1402.3,1246.0 1403.8,1246.0 1405.3,1246.0 1406.8,1246.1 1408.3,1246.1 1409.8,1246.1 1411.3,1246.2 1412.8,1246.2 1414.3,1246.2 1415.8,1246.3 1417.3,1246.3 1418.8,1246.3 1420.3,1246.3 1421.8,1246.4 1423.3,1246.4 1424.8,1246.4 1426.3,1246.5 1427.8,1246.5 1429.3,1246.5 1430.8,1246.6 1432.3,1246.6 1433.8,1246.6 1435.3,1246.6 1436.8,1246.7 1438.3,1246.7 1439.8,1246.7 1441.3,1246.8 1442.8,1246.8 1444.3,1246.8 1445.8,1246.8 1447.3,1246.9 1448.8,1246.9 1450.4,1246.9 1451.9,1247.0 1453.4,1247.0 1454.9,1247.0 1456.4,1247.0 1457.9,1247.1 1459.4,1247.1 1460.9,1247.1 1462.4,1247.1 1463.9,1247.2 1465.4,1247.2 1466.9,1247.2 1468.4,1247.3 1469.9,1247.3 1471.4,1247.3 1472.9,1247.3 1474.4,1247.4 1475.9,1247.4 1477.4,1247.4 1478.9,1247.4 1480.4,1247.5 1481.9,1247.5 1483.4,1247.5 1484.9,1247.5 1486.4,1247.6 1487.9,1247.6 1489.4,1247.6 1490.9,1247.6 1492.4,1247.7 1493.9,1247.7 1495.4,1247.7 1496.9,1247.7 1498.4,1247.8 1499.9,1247.8 1501.4,1247.8 1502.9,1247.8 1504.4,1247.9 1505.9,1247.9 1507.4,1247.9 1508.9,1247.9 1510.4,1248.0 1511.9,1248.0 1513.4,1248.0 1514.9,1248.0 1516.4,1248.1 1517.9,1248.1 1519.4,1248.1 1520.9,1248.1 1522.4,1248.1 1523.9,1248.2 1525.4,1248.2 1526.9,1248.2 1528.4,1248.2 1529.9,1248.3 1531.4,1248.3 1532.9,1248.3 1534.4,1248.3 1536.0,1248.3 1537.5,1248.4 1539.0,1248.4 1540.5,1248.4 1542.0,1248.4 1543.5,1248.5 1545.0,1248.5 1546.5,1248.5 1548.0,1248.5 1549.5,1248.5 1551.0,1248.6 1552.5,1248.6 1554.0,1248.6 1555.5,1248.6 1557.0,1248.6 1558.5,1248.7 1560.0,1248.7 1561.5,1248.7 1563.0,1248.7 1564.5,1248.7 1566.0,1248.8 1567.5,1248.8 1569.0,1248.8 1570.5,1248.8 1572.0,1248.9 1573.5,1248.9 1575.0,1248.9 1576.5,1248.9 1578.0,1248.9 1579.5,1248.9 1581.0,1249.0 1582.5,1249.0 1584.0,1249.0 1585.5,1249.0 1587.0,1249.0 1588.5,1249.1 1590.0,1249.1 1591.5,1249.1 1593.0,1249.1 1594.5,1249.1 1596.0,1249.2 1597.5,1249.2 1599.0,1249.2 1600.5,1249.2 1602.0,1249.2 1603.5,1249.3 1605.0,1249.3 1606.5,1249.3 1608.0,1249.3 1609.5,1249.3 1611.0,1249.3 1612.5,1249.4 1614.0,1249.4 1615.5,1249.4 1617.0,1249.4 1618.5,1249.4 1620.0,1249.5 1621.6,1249.5 1623.1,1249.5 1624.6,1249.5 1626.1,1249.5 1627.6,1249.5 1629.1,1249.6 1630.6,1249.6 1632.1,1249.6 1633.6,1249.6 1635.1,1249.6 1636.6,1249.6 1638.1,1249.7 1639.6,1249.7 1641.1,1249.7 1642.6,1249.7 1644.1,1249.7 1645.6,1249.7 1647.1,1249.8 1648.6,1249.8 1650.1,1249.8 1651.6,1249.8 1653.1,1249.8 1654.6,1249.8 1656.1,1249.9 1657.6,1249.9 1659.1,1249.9 1660.6,1249.9 1662.1,1249.9 1663.6,1249.9 1665.1,1250.0 1666.6,1250.0 1668.1,1250.0 1669.6,1250.0 1671.1,1250.0 1672.6,1250.0 1674.1,1250.1 1675.6,1250.1 1677.1,1250.1 1678.6,1250.1 1680.1,1250.1 1681.6,1250.1 1683.1,1250.2 1684.6,1250.2 1686.1,1250.2 1687.6,1250.2 1689.1,1250.2 1690.6,1250.2 1692.1,1250.2 1693.6,1250.3 1695.1,1250.3 1696.6,1250.3 1698.1,1250.3 1699.6,1250.3 1701.1,1250.3 1702.6,1250.3 1704.1,1250.4 1705.6,1250.4 1707.2,1250.4 1708.7,1250.4 1710.2,1250.4 1711.7,1250.4 1713.2,1250.4 1714.0,1250.5"/>
<polyline stroke="#0000ff" stroke-width="10.5" points="210.5,1064.2 211.4,1064.2 212.9,1064.2 214.4,1064.1 215.9,1064.1 217.4,1064.0 218.9,1064.0 220.4,1063.9 221.9,1063.8 223.4,1063.7 224.9,1063.6 226.4,1063.4 227.9,1063.3 229.4,1063.1 230.9,1062.9 232.4,1062.7 233.9,1062.5 235.4,1062.2 236.9,1062.0 238.4,1061.7 239.9,1061.4 241.4,1061.1 242.9,1060.8 244.4,1060.5 245.9,1060.2 247.4,1059.8 248.9,1059.4 250.4,1059.1 252.0,1058.7 253.5,1058.2 255.0,1057.8 256.5,1057.4 258.0,1056.9 259.5,1056.4 261.0,1055.9 262.5,1055.4 264.0,1054.9 265.5,1054.3 267.0,1053.8 268.5,1053.2 270.0,1052.6 271.5,1052.0 273.0,1051.4 274.5,1050.7 276.0,1050.1 277.5,1049.4 279.0,1048.7 280.5,1048.0 282.0,1047.3 283.5,1046.6 285.0,1045.8 286.5,1045.1 288.0,1044.3 289.5,1043.5 291.0,1042.7 292.5,1041.8 294.0,1041.0 295.5,1040.1 297.0,1039.2 298.5,1038.4 300.0,1037.4 301.5,1036.5 303.0,1035.6 304.5,1034.6 306.0,1033.6 307.5,1032.7 309.0,1031.7 310.5,1030.6 312.0,1029.6 313.5,1028.6 315.0,1027.5 316.5,1026.4 318.0,1025.3 319.5,1024.2 321.0,1023.1 322.5,1022.0 324.0,1020.8 325.5,1019.6 327.0,1018.5 328.5,1017.3 330.0,1016.1 331.5,1014.8 333.0,1013.6 334.5,1012.4 336.0,1011.1 337.6,1009.8 339.1,1008.6 340.6,1007.3 342.1,1006.0 343.6,1004.6 345.1,1003.3 346.6,1002.0 348.1,1000.6 349.6,999.3 351.1,997.9 352.6,996.6 354.1,995.2 355.6,993.8 357.1,992.4 358.6,991.0 360.1,989.6 361.6,988.2 363.1,986.8 364.6,985.4 366.1,984.0 367.6,982.6 369.1,981.1 370.6,979.7 372.1,978.3 373.6,976.9 375.1,975.5 376.6,974.0 378.1,972.6 379.6,971.2 381.1,969.8 382.6,968.4 384.1,967.0 385.6,965.6 387.1,964.3 388.6,962.9 390.1,961.5 391.6,960.2 393.1,958.8 394.6,957.5 396.1,956.2 397.6,954.9 399.1,953.6 400.6,952.4 402.1,951.1 403.6,949.9 405.1,948.6 406.6,947.4 408.1,946.3 409.6,945.1 411.1,944.0 412.6,942.8 414.1,941.7 415.6,940.7 417.1,939.6 418.6,938.6 420.1,937.6 421.6,936.6 423.2,935.6 424.7,934.7 426.2,933.8 427.7,932.9 429.2,932.1 430.7,931.3 432.2,930.5 433.7,929.7 435.2,928.9 436.7,928.2 438.2,927.5 439.7,926.9 441.2,926.3 442.7,925.6 444.2,925.1 445.7,924.5 447.2,924.0 448.7,923.5 450.2,923.0 451.7,922.6 453.2,922.1 454.7,921.7 456.2,921.4 457.7,921.0 459.2,920.7 460.7,920.4 462.2,920.1 463.7,919.9 465.2,919.6 466.7,919.4 468.2,919.2 469.7,919.0 471.2,918.9 472.7,918.8 474.2,918.6 475.7,918.5 477.2,918.4 478.7,918.4 480.2,918.3 481.7,918.3 483.2,918.2 484.7,918.2 486.2,918.2 487.7,918.2 489.2,918.2 490.7,918.2 492.2,918.2 493.7,918.3 495.2,918.3 496.7,918.4 498.2,918.4 499.7,918.5 501.2,918.5 502.7,918.6 504.2,918.6 505.7,918.7 507.2,918.8 508.8,918.8 510.3,918.9 511.8,918.9 513.3,919.0 514.8,919.0 516.3,919.1 517.8,919.1 519.3,919.2 520.8,919.2 522.3,919.3 523.8,919.3 525.3,919.3 526.8,919.3 528.3,919.3 529.8,919.3 531.3,919.3 532.8,919.2 534.3,919.2 535.8,919.1 537.3,919.1 538.8,919.0 540.3,918.9 541.8,918.8 543.3,918.7 544.8,918.6 546.3,918.4 547.8,918.3 549.3,918.1 550.8,917.9 552.3,917.7 553.8,917.5 555.3,917.3 556.8,917.0 558.3,916.8 559.8,916.5 561.3,916.2 562.8,915.9 564.3,915.5 565.8,915.2 567.3,914.8 568.8,914.4 570.3,914.0 571.8,913.6 573.3,913.1 574.8,912.6 576.3,912.1 577.8,911.6 579.3,911.1 580.8,910.5 582.3,909.9 583.8,909.4 585.3,908.7 586.8,908.1 588.3,907.4 589.8,906.8 591.3,906.0 592.8,905.3 594.4,904.6 595.9,903.8 597.4,903.0 598.9,902.2 600.4,901.4 601.9,900.5 603.4,899.6 604.9,898.7 606.4,897.8 607.9,896.9 609.4,895.9 610.9,895.0 612.4,894.0 613.9,892.9 615.4,891.9 616.9,890.9 618.4,889.8 619.9,888.7 621.4,887.6 622.9,886.5 624.4,885.3 625.9,884.2 627.4,883.0 628.9,881.8 630.4,880.7 631.9,879.5 633.4,878.3 634.9,877.0 636.4,875.8 637.9,874.6 639.4,873.4 640.9,872.1 642.4,870.9 643.9,869.7 645.4,868.4 646.9,867.2 648.4,866.0 649.9,864.8 651.4,863.6 652.9,862.5 654.4,861.3 655.9,860.2 657.4,859.1 658.9,858.0 660.4,856.9 661.9,855.9 663.4,854.9 664.9,854.0 666.4,853.1 667.9,852.3 669.4,851.5 670.9,850.7 672.4,850.0 673.9,849.4 675.4,848.9 676.9,848.4 678.4,848.0 680.0,847.7 681.5,847.4 683.0,847.3 684.5,847.2 686.0,847.2 687.5,847.3 689.0,847.5 690.5,847.9 692.0,848.3 693.5,848.8 695.0,849.5 696.5,850.2 698.0,851.1 699.5,852.1 701.0,853.2 702.5,854.4 704.0,855.7 705.5,857.2 707.0,858.8 708.5,860.5 710.0,862.3 711.5,864.2 713.0,866.2 714.5,868.4 716.0,870.6 717.5,873.0 719.0,875.4 720.5,878.0 722.0,880.6 723.5,883.4 725.0,886.2 726.5,889.1 728.0,892.1 729.5,895.2 731.0,898.3 732.5,901.5 734.0,904.7 735.5,908.1 737.0,911.4 738.5,914.8 740.0,918.3 741.5,921.7 743.0,925.3 744.5,928.8 746.0,932.3 747.5,935.9 749.0,939.5 750.5,943.1 752.0,946.7 753.5,950.3 755.0,953.9 756.5,957.5 758.0,961.1 759.5,964.7 761.0,968.2 762.5,971.8 764.0,975.3 765.6,978.8 767.1,982.3 768.6,985.7 770.1,989.2 771.6,992.6 773.1,995.9 774.6,999.2 776.1,1002.5 777.6,1005.8 779.1,1009.0 780.6,1012.2 782.1,1015.4 783.6,1018.5 785.1,1021.6 786.6,1024.6 788.1,1027.6 789.6,1030.6 791.1,1033.5 792.6,1036.4 794.1,1039.2 795.6,1042.0 797.1,1044.8 798.6,1047.5 800.1,1050.2 801.6,1052.8 803.1,1055.4 804.6,1058.0 806.1,1060.5 807.6,1063.0 809.1,1065.4 810.6,1067.8 812.1,1070.2 813.6,1072.5 815.1,1074.8 816.6,1077.1 818.1,1079.3 819.6,1081.5 821.1,1083.6 822.6,1085.7 824.1,1087.8 825.6,1089.9 827.1,1091.9 828.6,1093.9 830.1,1095.8 831.6,1097.8 833.1,1099.6 834.6,1101.5 836.1,1103.3 837.6,1105.1 839.1,1106.9 840.6,1108.7 842.1,1110.4 843.6,1112.1 845.1,1113.7 846.6,1115.4 848.1,1117.0 849.6,1118.5 851.2,1120.1 852.7,1121.6 854.2,1123.1 855.7,1124.6 857.2,1126.1 858.7,1127.5 860.2,1128.9 861.7,1130.3 863.2,1131.7 864.7,1133.1 866.2,1134.4 867.7,1135.7 869.2,1137.0 870.7,1138.3 872.2,1139.5 873.7,1140.7 875.2,1142.0 876.7,1143.1 878.2,1144.3 879.7,1145.5 881.2,1146.6 882.7,1147.7 884.2,1148.9 885.7,1149.9 887.2,1151.0 888.7,1152.1 890.2,1153.1 891.7,1154.1 893.2,1155.2 894.7,1156.2 896.2,1157.1 897.7,1158.1 899.2,1159.1 900.7,1160.0 902.2,1160.9 903.7,1161.8 905.2,1162.7 906.7,1163.6 908.2,1164.5 909.7,1165.4 911.2,1166.2 912.7,1167.1 914.2,1167.9 915.7,1168.7 917.2,1169.5 918.7,1170.3 920.2,1171.1 921.7,1171.9 923.2,1172.6 924.7,1173.4 926.2,1174.1 927.7,1174.9 929.2,1175.6 930.7,1176.3 932.2,1177.0 933.7,1177.7 935.2,1178.4 936.8,1179.1 938.3,1179.7 939.8,1180.4 941.3,1181.1 942.8,1181.7 944.3,1182.3 945.8,1183.0 947.3,1183.6 948.8,1184.2 950.3,1184.8 951.8,1185.4 953.3,1186.0 954.8,1186.6 956.3,1187.1 957.8,1187.7 959.3,1188.3 960.8,1188.8 962.3,1189.3 963.8,1189.9 965.3,1190.4 966.8,1190.9 968.3,1191.5 969.8,1192.0 971.3,1192.5 972.8,1193.0 974.3,1193.5 975.8,1194.0 977.3,1194.5 978.8,1194.9 980.3,1195.4 981.8,1195.9 983.3,1196.3 984.8,1196.8 986.3,1197.3 987.8,1197.7 989.3,1198.1 990.8,1198.6 992.3,1199.0 993.8,1199.4 995.3,1199.9 996.8,1200.3 998.3,1200.7 999.8,1201.1 1001.3,1201.5 1002.8,1201.9 1004.3,1202.3 1005.8,1202.7 1007.3,1203.1 1008.8,1203.4 1010.3,1203.8 1011.8,1204.2 1013.3,1204.6 1014.8,1204.9 1016.3,1205.3 1017.8,1205.6 1019.3,1206.0 1020.8,1206.4 1022.4,1206.7 1023.9,1207.0 1025.4,1207.4 1026.9,1207.7 1028.4,1208.0 1029.9,1208.4 1031.4,1208.7 1032.9,1209.0 1034.4,1209.3 1035.9,1209.7 1037.4,1210.0 1038.9,1210.3 1040.4,1210.6 1041.9,1210.9 1043.4,1211.2 1044.9,1211.5 1046.4,1211.8 1047.9,1212.1 1049.4,1212.4 1050.9,1212.6 1052.4,1212.9 1053.9,1213.2 1055.4,1213.5 1056.9,1213.8 1058.4,1214.0 1059.9,1214.3 1061.4,1214.6 1062.9,1214.8 1064.4,1215.1 1065.9,1215.4 1067.4,1215.6 1068.9,1215.9 1070.4,1216.1 1071.9,1216.4 1073.4,1216.6 1074.9,1216.9 1076.4,1217.1 1077.9,1217.3 1079.4,1217.6 1080.9,1217.8 1082.4,1218.0 1083.9,1218.3 1085.4,1218.5 1086.9,1218.7 1088.4,1219.0 1089.9,1219.2 1091.4,1219.4 1092.9,1219.6 1094.4,1219.8 1095.9,1220.1 1097.4,1220.3 1098.9,1220.5 1100.4,1220.7 1101.9,1220.9 1103.4,1221.1 1104.9,1221.3 1106.4,1221.5 1108.0,1221.7 1109.5,1221.9 1111.0,1222.1 1112.5,1222.3 1114.0,1222.5 1115.5,1222.7 1117.0,1222.9 1118.5,1223.1 1120.0,1223.2 1121.5,1223.4 1123.0,1223.6 1124.5,1223.8 1126.0,1224.0 1127.5,1224.2 1129.0,1224.3 1130.5,1224.5 1132.0,1224.7 1133.5,1224.9 1135.0,1225.0 1136.5,1225.2 1138.0,1225.4 1139.5,1225.5 1141.0,1225.7 1142.5,1225.9 1144.0,1226.0 1145.5,1226.2 1147.0,1226.4 1148.5,1226.5 1150.0,1226.7 1151.5,1226.8 1153.0,1227.0 1154.5,1227.1 1156.0,1227.3 1157.5,1227.4 1159.0,1227.6 1160.5,1227.7 1162.0,1227.9 1163.5,1228.0 1165.0,1228.2 1166.5,1228.3 1168.0,1228.5 1169.5,1228.6 1171.0,1228.8 1172.5,1228.9 1174.0,1229.0 1175.5,1229.2 1177.0,1229.3 1178.5,1229.5 1180.0,1229.6 1181.5,1229.7 1183.0,1229.9 1184.5,1230.0 1186.0,1230.1 1187.5,1230.3 1189.0,1230.4 1190.5,1230.5 1192.0,1230.6 1193.6,1230.8 1195.1,1230.9 1196.6,1231.0 1198.1,1231.1 1199.6,1231.3 1201.1,1231.4 1202.6,1231.5 1204.1,1231.6 1205.6,1231.7 1207.1,1231.9 1208.6,1232.0 1210.1,1232.1 1211.6,1232.2 1213.1,1232.3 1214.6,1232.4 1216.1,1232.6 1217.6,1232.7 1219.1,1232.8 1220.6,1232.9 1222.1,1233.0 1223.6,1233.1 1225.1,1233.2 1226.6,1233.3 1228.1,1233.4 1229.6,1233.5 1231.1,1233.6 1232.6,1233.7 1234.1,1233.9 1235.6,1234.0 1237.1,1234.1 1238.6,1234.2 1240.1,1234.3 1241.6,1234.4 1243.1,1234.5 1244.6,1234.6 1246.1,1234.7 1247.6,1234.8 1249.1,1234.9 1250.6,1234.9 1252.1,1235.0 1253.6,1235.1 1255.1,1235.2 1256.6,1235.3 1258.1,1235.4 1259.6,1235.5 1261.1,1235.6 1262.6,1235.7 1264.1,1235.8 1265.6,1235.9 1267.1,1236.0 1268.6,1236.1 1270.1,1236.1 1271.6,1236.2 1273.1,1236.3 1274.6,1236.4 1276.1,1236.5 1277.6,1236.6 1279.2,1236.7 1280.7,1236.7 1282.2,1236.8 1283.7,1236.9 1285.2,1237.0 1286.7,1237.1 1288.2,1237.2 1289.7,1237.2 1291.2,1237.3 1292.7,1237.4 1294.2,1237.5 1295.7,1237.6 1297.2,1237.6 1298.7,1237.7 1300.2,1237.8 1301.7,1237.9 1303.2,1238.0 1304.7,1238.0 1306.2,1238.1 1307.7,1238.2 1309.2,1238.3 1310.7,1238.3 1312.2,1238.4 1313.7,1238.5 1315.2,1238.6 1316.7,1238.6 1318.2,1238.7 1319.7,1238.8 1321.2,1238.8 1322.7,1238.9 1324.2,1239.0 1325.7,1239.1 1327.2,1239.1 1328.7,1239.2 1330.2,1239.3 1331.7,1239.3 1333.2,1239.4 1334.7,1239.5 1336.2,1239.5 1337.7,1239.6 1339.2,1239.7 1340.7,1239.7 1342.2,1239.8 1343.7,1239.9 1345.2,1239.9 1346.7,1240.0 1348.2,1240.1 1349.7,1240.1 1351.2,1240.2 1352.7,1240.2 1354.2,1240.3 1355.7,1240.4 1357.2,1240.4 1358.7,1240.5 1360.2,1240.6 1361.7,1240.6 1363.2,1240.7 1364.8,1240.7 1366.3,1240.8 1367.8,1240.9 1369.3,1240.9 1370.8,1241.0 1372.3,1241.0 1373.8,1241.1 1375.3,1241.1 1376.8,1241.2 1378.3,1241.3 1379.8,1241.3 1381.3,1241.4 1382.8,1241.4 1384.3,1241.5 1385.8,1241.5 1387.3,1241.6 1388.8,1241.6 1390.3,1241.7 1391.8,1241.8 1393.3,1241.8 1394.8,1241.9 1396.3,1241.9 1397.8,1242.0 1399.3,1242.0 1400.8,1242.1 1402.3,1242.1 1403.8,1242.2 1405.3,1242.2 1406.8,1242.3 1408.3,1242.3 1409.8,1242.4 1411.3,1242.4 1412.8,1242.5 1414.3,1242.5 1415.8,1242.6 1417.3,1242.6 1418.8,1242.7 1420.3,1242.7 1421.8,1242.8 1423.3,1242.8 1424.8,1242.9 1426.3,1242.9 1427.8,1243.0 1429.3,1243.0 1430.8,1243.1 1432.3,1243.1 1433.8,1243.2 1435.3,1243.2 1436.8,1243.3 1438.3,1243.3 1439.8,1243.3 1441.3,1243.4 1442.8,1243.4 1444.3,1243.5 1445.8,1243.5 1447.3,1243.6 1448.8,1243.6 1450.4,1243.7 1451.9,1243.7 1453.4,1243.7 1454.9,1243.8 1456.4,1243.8 1457.9,1243.9 1459.4,1243.9 1460.9,1244.0 1462.4,1244.0 1463.9,1244.0 1465.4,1244.1 1466.9,1244.1 1468.4,1244.2 1469.9,1244.2 1471.4,1244.3 1472.9,1244.3 1474.4,1244.3 1475.9,1244.4 1477.4,1244.4 1478.9,1244.5 1480.4,1244.5 1481.9,1244.5 1483.4,1244.6 1484.9,1244.6 1486.4,1244.7 1487.9,1244.7 1489.4,1244.7 1490.9,1244.8 1492.4,1244.8 1493.9,1244.8 1495.4,1244.9 1496.9,1244.9 1498.4,1245.0 1499.9,1245.0 1501.4,1245.0 1502.9,1245.1 1504.4,1245.1 1505.9,1245.1 1507.4,1245.2 1508.9,1245.2 1510.4,1245.3 1511.9,1245.3 1513.4,1245.3 1514.9,1245.4 1516.4,1245.4 1517.9,1245.4 1519.4,1245.5 1520.9,1245.5 1522.4,1245.5 1523.9,1245.6 1525.4,1245.6 1526.9,1245.6 1528.4,1245.7 1529.9,1245.7 1531.4,1245.7 1532.9,1245.8 1534.4,1245.8 1536.0,1245.8 1537.5,1245.9 1539.0,1245.9 1540.5,1245.9 1542.0,1246.0 1543.5,1246.0 1545.0,1246.0 1546.5,1246.1 1548.0,1246.1 1549.5,1246.1 1551.0,1246.2 1552.5,1246.2 1554.0,1246.2 1555.5,1246.3 1557.0,1246.3 1558.5,1246.3 1560.0,1246.4 1561.5,1246.4 1563.0,1246.4 1564.5,1246.4 1566.0,1246.5 1567.5,1246.5 1569.0,1246.5 1570.5,1246.6 1572.0,1246.6 1573.5,1246.6 1575.0,1246.7 1576.5,1246.7 1578.0,1246.7 1579.5,1246.7 1581.0,1246.8 1582.5,1246.8 1584.0,1246.8 1585.5,1246.9 1587.0,1246.9 1588.5,1246.9 1590.0,1246.9 1591.5,1247.0 1593.0,1247.0 1594.5,1247.0 1596.0,1247.1 1597.5,1247.1 1599.0,1247.1 1600.5,1247.1 1602.0,1247.2 1603.5,1247.2 1605.0,1247.2 1606.5,1247.3 1608.0,1247.3 1609.5,1247.3 1611.0,1247.3 1612.5,1247.4 1614.0,1247.4 1615.5,1247.4 1617.0,1247.4 1618.5,1247.5 1620.0,1247.5 1621.6,1247.5 1623.1,1247.5 1624.6,1247.6 1626.1,1247.6 1627.6,1247.6 1629.1,1247.6 1630.6,1247.7 1632.1,1247.7 1633.6,1247.7 1635.1,1247.7 1636.6,1247.8 1638.1,1247.8 1639.6,1247.8 1641.1,1247.8 1642.6,1247.9 1644.1,1247.9 1645.6,1247.9 1647.1,1247.9 1648.6,1248.0 1650.1,1248.0 1651.6,1248.0 1653.1,1248.0 1654.6,1248.1 1656.1,1248.1 1657.6,1248.1 1659.1,1248.1 1660.6,1248.2 1662.1,1248.2 1663.6,1248.2 1665.1,1248.2 1666.6,1248.2 1668.1,1248.3 1669.6,1248.3 1671.1,1248.3 1672.6,1248.3 1674.1,1248.4 1675.6,1248.4 1677.1,1248.4 1678.6,1248.4 1680.1,1248.4 1681.6,1248.5 1683.1,1248.5 1684.6,1248.5 1686.1,1248.5 1687.6,1248.6 1689.1,1248.6 1690.6,1248.6 1692.1,1248.6 1693.6,1248.6 1695.1,1248.7 1696.6,1248.7 1698.1,1248.7 1699.6,1248.7 1701.1,1248.7 1702.6,1248.8 1704.1,1248.8 1705.6,1248.8 1707.2,1248.8 1708.7,1248.8 1710.2,1248.9 1711.7,1248.9 1713.2,1248.9 1714.0,1248.9"/>
<polyline stroke="#7e2f8e" stroke-width="10.5" points="210.5,1065.0 211.4,1065.0 212.9,1065.0 214.4,1065.1 215.9,1065.1 217.4,1065.2 218.9,1065.3 220.4,1065.4 221.9,1065.5 223.4,1065.6 224.9,1065.8 226.4,1066.0 227.9,1066.1 229.4,1066.4 230.9,1066.6 232.4,1066.8 233.9,1067.1 235.4,1067.4 236.9,1067.6 238.4,1067.9 239.9,1068.3 241.4,1068.6 242.9,1068.9 244.4,1069.3 245.9,1069.6 247.4,1070.0 248.9,1070.4 250.4,1070.8 252.0,1071.2 253.5,1071.6 255.0,1072.0 256.5,1072.4 258.0,1072.8 259.5,1073.2 261.0,1073.7 262.5,1074.1 264.0,1074.5 265.5,1075.0 267.0,1075.4 268.5,1075.9 270.0,1076.3 271.5,1076.8 273.0,1077.2 274.5,1077.6 276.0,1078.1 277.5,1078.5 279.0,1078.9 280.5,1079.4 282.0,1079.8 283.5,1080.2 285.0,1080.6 286.5,1081.0 288.0,1081.4 289.5,1081.8 291.0,1082.2 292.5,1082.6 294.0,1083.0 295.5,1083.3 297.0,1083.7 298.5,1084.0 300.0,1084.4 301.5,1084.7 303.0,1085.0 304.5,1085.3 306.0,1085.6 307.5,1085.9 309.0,1086.2 310.5,1086.5 312.0,1086.7 313.5,1087.0 315.0,1087.2 316.5,1087.4 318.0,1087.6 319.5,1087.8 321.0,1088.0 322.5,1088.2 324.0,1088.4 325.5,1088.5 327.0,1088.7 328.5,1088.8 330.0,1088.9 331.5,1089.0 333.0,1089.1 334.5,1089.1 336.0,1089.2 337.6,1089.2 339.1,1089.2 340.6,1089.3 342.1,1089.3 343.6,1089.2 345.1,1089.2 346.6,1089.2 348.1,1089.1 349.6,1089.0 351.1,1088.9 352.6,1088.8 354.1,1088.7 355.6,1088.6 357.1,1088.4 358.6,1088.2 360.1,1088.1 361.6,1087.9 363.1,1087.6 364.6,1087.4 366.1,1087.2 367.6,1086.9 369.1,1086.6 370.6,1086.3 372.1,1086.0 373.6,1085.7 375.1,1085.3 376.6,1084.9 378.1,1084.6 379.6,1084.2 381.1,1083.7 382.6,1083.3 384.1,1082.8 385.6,1082.4 387.1,1081.9 388.6,1081.4 390.1,1080.8 391.6,1080.3 393.1,1079.7 394.6,1079.2 396.1,1078.5 397.6,1077.9 399.1,1077.3 400.6,1076.6 402.1,1075.9 403.6,1075.3 405.1,1074.5 406.6,1073.8 408.1,1073.0 409.6,1072.3 411.1,1071.5 412.6,1070.6 414.1,1069.8 415.6,1068.9 417.1,1068.1 418.6,1067.2 420.1,1066.2 421.6,1065.3 423.2,1064.3 424.7,1063.3 426.2,1062.3 427.7,1061.3 429.2,1060.2 430.7,1059.2 432.2,1058.1 433.7,1056.9 435.2,1055.8 436.7,1054.6 438.2,1053.4 439.7,1052.2 441.2,1051.0 442.7,1049.7 444.2,1048.5 445.7,1047.2 447.2,1045.8 448.7,1044.5 450.2,1043.1 451.7,1041.7 453.2,1040.3 454.7,1038.9 456.2,1037.4 457.7,1036.0 459.2,1034.5 460.7,1032.9 462.2,1031.4 463.7,1029.8 465.2,1028.3 466.7,1026.7 468.2,1025.0 469.7,1023.4 471.2,1021.7 472.7,1020.0 474.2,1018.3 475.7,1016.6 477.2,1014.9 478.7,1013.1 480.2,1011.4 481.7,1009.6 483.2,1007.8 484.7,1006.0 486.2,1004.2 487.7,1002.3 489.2,1000.5 490.7,998.6 492.2,996.8 493.7,994.9 495.2,993.0 496.7,991.1 498.2,989.3 499.7,987.4 501.2,985.5 502.7,983.6 504.2,981.7 505.7,979.8 507.2,977.9 508.8,976.0 510.3,974.1 511.8,972.2 513.3,970.4 514.8,968.5 516.3,966.7 517.8,964.8 519.3,963.0 520.8,961.2 522.3,959.4 523.8,957.6 525.3,955.9 526.8,954.2 528.3,952.4 529.8,950.8 531.3,949.1 532.8,947.5 534.3,945.8 535.8,944.2 537.3,942.7 538.8,941.2 540.3,939.7 541.8,938.2 543.3,936.7 544.8,935.3 546.3,933.9 547.8,932.6 549.3,931.3 550.8,930.0 552.3,928.7 553.8,927.5 555.3,926.3 556.8,925.1 558.3,924.0 559.8,922.9 561.3,921.8 562.8,920.8 564.3,919.7 565.8,918.8 567.3,917.8 568.8,916.8 570.3,915.9 571.8,915.0 573.3,914.1 574.8,913.3 576.3,912.4 577.8,911.6 579.3,910.8 580.8,910.0 582.3,909.2 583.8,908.5 585.3,907.7 586.8,907.0 588.3,906.2 589.8,905.5 591.3,904.7 592.8,904.0 594.4,903.3 595.9,902.5 597.4,901.8 598.9,901.0 600.4,900.3 601.9,899.5 603.4,898.7 604.9,897.9 606.4,897.1 607.9,896.3 609.4,895.5 610.9,894.6 612.4,893.7 613.9,892.8 615.4,891.9 616.9,890.9 618.4,889.9 619.9,888.9 621.4,887.9 622.9,886.8 624.4,885.7 625.9,884.6 627.4,883.4 628.9,882.2 630.4,880.9 631.9,879.6 633.4,878.3 634.9,876.9 636.4,875.5 637.9,874.0 639.4,872.5 640.9,870.9 642.4,869.3 643.9,867.6 645.4,865.9 646.9,864.1 648.4,862.2 649.9,860.4 651.4,858.4 652.9,856.4 654.4,854.3 655.9,852.2 657.4,850.1 658.9,847.8 660.4,845.5 661.9,843.2 663.4,840.8 664.9,838.3 666.4,835.7 667.9,833.2 669.4,830.5 670.9,827.8 672.4,825.1 673.9,822.3 675.4,819.4 676.9,816.5 678.4,813.6 680.0,810.6 681.5,807.6 683.0,804.5 684.5,801.4 686.0,798.3 687.5,795.2 689.0,792.1 690.5,789.0 692.0,785.9 693.5,782.8 695.0,779.8 696.5,776.8 698.0,773.8 699.5,770.9 701.0,768.1 702.5,765.4 704.0,762.8 705.5,760.4 707.0,758.0 708.5,755.9 710.0,753.9 711.5,752.1 713.0,750.6 714.5,749.3 716.0,748.2 717.5,747.4 719.0,746.9 720.5,746.7 722.0,746.8 723.5,747.3 725.0,748.0 726.5,749.2 728.0,750.7 729.5,752.5 731.0,754.7 732.5,757.3 734.0,760.3 735.5,763.5 737.0,767.2 738.5,771.1 740.0,775.4 741.5,780.0 743.0,784.8 744.5,790.0 746.0,795.3 747.5,800.9 749.0,806.7 750.5,812.7 752.0,818.9 753.5,825.1 755.0,831.5 756.5,838.0 758.0,844.6 759.5,851.2 761.0,857.8 762.5,864.5 764.0,871.2 765.6,877.8 767.1,884.4 768.6,891.0 770.1,897.6 771.6,904.0 773.1,910.5 774.6,916.8 776.1,923.0 777.6,929.2 779.1,935.3 780.6,941.2 782.1,947.1 783.6,952.8 785.1,958.5 786.6,964.0 788.1,969.5 789.6,974.8 791.1,980.0 792.6,985.1 794.1,990.1 795.6,995.0 797.1,999.7 798.6,1004.4 800.1,1008.9 801.6,1013.4 803.1,1017.7 804.6,1022.0 806.1,1026.1 807.6,1030.2 809.1,1034.1 810.6,1038.0 812.1,1041.7 813.6,1045.4 815.1,1049.0 816.6,1052.5 818.1,1055.9 819.6,1059.3 821.1,1062.5 822.6,1065.7 824.1,1068.8 825.6,1071.9 827.1,1074.8 828.6,1077.7 830.1,1080.6 831.6,1083.3 833.1,1086.0 834.6,1088.7 836.1,1091.2 837.6,1093.8 839.1,1096.2 840.6,1098.6 842.1,1101.0 843.6,1103.3 845.1,1105.5 846.6,1107.7 848.1,1109.9 849.6,1112.0 851.2,1114.0 852.7,1116.1 854.2,1118.0 855.7,1120.0 857.2,1121.8 858.7,1123.7 860.2,1125.5 861.7,1127.3 863.2,1129.0 864.7,1130.7 866.2,1132.4 867.7,1134.0 869.2,1135.6 870.7,1137.2 872.2,1138.7 873.7,1140.2 875.2,1141.7 876.7,1143.1 878.2,1144.5 879.7,1145.9 881.2,1147.3 882.7,1148.6 884.2,1149.9 885.7,1151.2 887.2,1152.5 888.7,1153.7 890.2,1154.9 891.7,1156.1 893.2,1157.3 894.7,1158.4 896.2,1159.5 897.7,1160.7 899.2,1161.7 900.7,1162.8 902.2,1163.9 903.7,1164.9 905.2,1165.9 906.7,1166.9 908.2,1167.9 909.7,1168.8 911.2,1169.8 912.7,1170.7 914.2,1171.6 915.7,1172.5 917.2,1173.4 918.7,1174.3 920.2,1175.1 921.7,1176.0 923.2,1176.8 924.7,1177.6 926.2,1178.4 927.7,1179.2 929.2,1180.0 930.7,1180.7 932.2,1181.5 933.7,1182.2 935.2,1182.9 936.8,1183.7 938.3,1184.4 939.8,1185.1 941.3,1185.7 942.8,1186.4 944.3,1187.1 945.8,1187.7 947.3,1188.4 948.8,1189.0 950.3,1189.6 951.8,1190.2 953.3,1190.8 954.8,1191.4 956.3,1192.0 957.8,1192.6 959.3,1193.2 960.8,1193.7 962.3,1194.3 963.8,1194.8 965.3,1195.4 966.8,1195.9 968.3,1196.4 969.8,1197.0 971.3,1197.5 972.8,1198.0 974.3,1198.5 975.8,1199.0 977.3,1199.4 978.8,1199.9 980.3,1200.4 981.8,1200.9 983.3,1201.3 984.8,1201.8 986.3,1202.2 987.8,1202.7 989.3,1203.1 990.8,1203.5 992.3,1203.9 993.8,1204.4 995.3,1204.8 996.8,1205.2 998.3,1205.6 999.8,1206.0 1001.3,1206.4 1002.8,1206.8 1004.3,1207.1 1005.8,1207.5 1007.3,1207.9 1008.8,1208.3 1010.3,1208.6 1011.8,1209.0 1013.3,1209.3 1014.8,1209.7 1016.3,1210.0 1017.8,1210.4 1019.3,1210.7 1020.8,1211.1 1022.4,1211.4 1023.9,1211.7 1025.4,1212.0 1026.9,1212.4 1028.4,1212.7 1029.9,1213.0 1031.4,1213.3 1032.9,1213.6 1034.4,1213.9 1035.9,1214.2 1037.4,1214.5 1038.9,1214.8 1040.4,1215.1 1041.9,1215.4 1043.4,1215.7 1044.9,1215.9 1046.4,1216.2 1047.9,1216.5 1049.4,1216.8 1050.9,1217.0 1052.4,1217.3 1053.9,1217.5 1055.4,1217.8 1056.9,1218.1 1058.4,1218.3 1059.9,1218.6 1061.4,1218.8 1062.9,1219.1 1064.4,1219.3 1065.9,1219.5 1067.4,1219.8 1068.9,1220.0 1070.4,1220.3 1071.9,1220.5 1073.4,1220.7 1074.9,1220.9 1076.4,1221.2 1077.9,1221.4 1079.4,1221.6 1080.9,1221.8 1082.4,1222.0 1083.9,1222.2 1085.4,1222.5 1086.9,1222.7 1088.4,1222.9 1089.9,1223.1 1091.4,1223.3 1092.9,1223.5 1094.4,1223.7 1095.9,1223.9 1097.4,1224.1 1098.9,1224.3 1100.4,1224.5 1101.9,1224.6 1103.4,1224.8 1104.9,1225.0 1106.4,1225.2 1108.0,1225.4 1109.5,1225.6 1111.0,1225.7 1112.5,1225.9 1114.0,1226.1 1115.5,1226.3 1117.0,1226.4 1118.5,1226.6 1120.0,1226.8 1121.5,1227.0 1123.0,1227.1 1124.5,1227.3 1126.0,1227.5 1127.5,1227.6 1129.0,1227.8 1130.5,1227.9 1132.0,1228.1 1133.5,1228.2 1135.0,1228.4 1136.5,1228.6 1138.0,1228.7 1139.5,1228.9 1141.0,1229.0 1142.5,1229.2 1144.0,1229.3 1145.5,1229.5 1147.0,1229.6 1148.5,1229.7 1150.0,1229.9 1151.5,1230.0 1153.0,1230.2 1154.5,1230.3 1156.0,1230.4 1157.5,1230.6 1159.0,1230.7 1160.5,1230.8 1162.0,1231.0 1163.5,1231.1 1165.0,1231.2 1166.5,1231.4 1168.0,1231.5 1169.5,1231.6 1171.0,1231.8 1172.5,1231.9 1174.0,1232.0 1175.5,1232.1 1177.0,1232.3 1178.5,1232.4 1180.0,1232.5 1181.5,1232.6 1183.0,1232.7 1184.5,1232.9 1186.0,1233.0 1187.5,1233.1 1189.0,1233.2 1190.5,1233.3 1192.0,1233.4 1193.6,1233.5 1195.1,1233.7 1196.6,1233.8 1198.1,1233.9 1199.6,1234.0 1201.1,1234.1 1202.6,1234.2 1204.1,1234.3 1205.6,1234.4 1207.1,1234.5 1208.6,1234.6 1210.1,1234.7 1211.6,1234.8 1213.1,1234.9 1214.6,1235.0 1216.1,1235.1 1217.6,1235.2 1219.1,1235.3 1220.6,1235.4 1222.1,1235.5 1223.6,1235.6 1225.1,1235.7 1226.6,1235.8 1228.1,1235.9 1229.6,1236.0 1231.1,1236.1 1232.6,1236.2 1234.1,1236.3 1235.6,1236.4 1237.1,1236.5 1238.6,1236.6 1240.1,1236.6 1241.6,1236.7 1243.1,1236.8 1244.6,1236.9 1246.1,1237.0 1247.6,1237.1 1249.1,1237.2 1250.6,1237.3 1252.1,1237.3 1253.6,1237.4 1255.1,1237.5 1256.6,1237.6 1258.1,1237.7 1259.6,1237.7 1261.1,1237.8 1262.6,1237.9 1264.1,1238.0 1265.6,1238.1 1267.1,1238.2 1268.6,1238.2 1270.1,1238.3 1271.6,1238.4 1273.1,1238.5 1274.6,1238.5 1276.1,1238.6 1277.6,1238.7 1279.2,1238.8 1280.7,1238.8 1282.2,1238.9 1283.7,1239.0 1285.2,1239.1 1286.7,1239.1 1288.2,1239.2 1289.7,1239.3 1291.2,1239.3 1292.7,1239.4 1294.2,1239.5 1295.7,1239.6 1297.2,1239.6 1298.7,1239.7 1300.2,1239.8 1301.7,1239.8 1303.2,1239.9 1304.7,1240.0 1306.2,1240.0 1307.7,1240.1 1309.2,1240.2 1310.7,1240.2 1312.2,1240.3 1313.7,1240.4 1315.2,1240.4 1316.7,1240.5 1318.2,1240.6 1319.7,1240.6 1321.2,1240.7 1322.7,1240.7 1324.2,1240.8 1325.7,1240.9 1327.2,1240.9 1328.7,1241.0 1330.2,1241.0 1331.7,1241.1 1333.2,1241.2 1334.7,1241.2 1336.2,1241.3 1337.7,1241.3 1339.2,1241.4 1340.7,1241.5 1342.2,1241.5 1343.7,1241.6 1345.2,1241.6 1346.7,1241.7 1348.2,1241.7 1349.7,1241.8 1351.2,1241.9 1352.7,1241.9 1354.2,1242.0 1355.7,1242.0 1357.2,1242.1 1358.7,1242.1 1360.2,1242.2 1361.7,1242.2 1363.2,1242.3 1364.8,1242.3 1366.3,1242.4 1367.8,1242.4 1369.3,1242.5 1370.8,1242.5 1372.3,1242.6 1373.8,1242.6 1375.3,1242.7 1376.8,1242.7 1378.3,1242.8 1379.8,1242.8 1381.3,1242.9 1382.8,1242.9 1384.3,1243.0 1385.8,1243.0 1387.3,1243.1 1388.8,1243.1 1390.3,1243.2 1391.8,1243.2 1393.3,1243.3 1394.8,1243.3 1396.3,1243.4 1397.8,1243.4 1399.3,1243.5 1400.8,1243.5 1402.3,1243.6 1403.8,1243.6 1405.3,1243.7 1406.8,1243.7 1408.3,1243.7 1409.8,1243.8 1411.3,1243.8 1412.8,1243.9 1414.3,1243.9 1415.8,1244.0 1417.3,1244.0 1418.8,1244.1 1420.3,1244.1 1421.8,1244.1 1423.3,1244.2 1424.8,1244.2 1426.3,1244.3 1427.8,1244.3 1429.3,1244.3 1430.8,1244.4 1432.3,1244.4 1433.8,1244.5 1435.3,1244.5 1436.8,1244.6 1438.3,1244.6 1439.8,1244.6 1441.3,1244.7 1442.8,1244.7 1444.3,1244.8 1445.8,1244.8 1447.3,1244.8 1448.8,1244.9 1450.4,1244.9 1451.9,1244.9 1453.4,1245.0 1454.9,1245.0 1456.4,1245.1 1457.9,1245.1 1459.4,1245.1 1460.9,1245.2 1462.4,1245.2 1463.9,1245.2 1465.4,1245.3 1466.9,1245.3 1468.4,1245.4 1469.9,1245.4 1471.4,1245.4 1472.9,1245.5 1474.4,1245.5 1475.9,1245.5 1477.4,1245.6 1478.9,1245.6 1480.4,1245.6 1481.9,1245.7 1483.4,1245.7 1484.9,1245.7 1486.4,1245.8 1487.9,1245.8 1489.4,1245.9 1490.9,1245.9 1492.4,1245.9 1493.9,1246.0 1495.4,1246.0 1496.9,1246.0 1498.4,1246.1 1499.9,1246.1 1501.4,1246.1 1502.9,1246.1 1504.4,1246.2 1505.9,1246.2 1507.4,1246.2 1508.9,1246.3 1510.4,1246.3 1511.9,1246.3 1513.4,1246.4 1514.9,1246.4 1516.4,1246.4 1517.9,1246.5 1519.4,1246.5 1520.9,1246.5 1522.4,1246.6 1523.9,1246.6 1525.4,1246.6 1526.9,1246.7 1528.4,1246.7 1529.9,1246.7 1531.4,1246.7 1532.9,1246.8 1534.4,1246.8 1536.0,1246.8 1537.5,1246.9 1539.0,1246.9 1540.5,1246.9 1542.0,1246.9 1543.5,1247.0 1545.0,1247.0 1546.5,1247.0 1548.0,1247.1 1549.5,1247.1 1551.0,1247.1 1552.5,1247.1 1554.0,1247.2 1555.5,1247.2 1557.0,1247.2 1558.5,1247.3 1560.0,1247.3 1561.5,1247.3 1563.0,1247.3 1564.5,1247.4 1566.0,1247.4 1567.5,1247.4 1569.0,1247.4 1570.5,1247.5 1572.0,1247.5 1573.5,1247.5 1575.0,1247.5 1576.5,1247.6 1578.0,1247.6 1579.5,1247.6 1581.0,1247.7 1582.5,1247.7 1584.0,1247.7 1585.5,1247.7 1587.0,1247.8 1588.5,1247.8 1590.0,1247.8 1591.5,1247.8 1593.0,1247.9 1594.5,1247.9 1596.0,1247.9 1597.5,1247.9 1599.0,1248.0 1600.5,1248.0 1602.0,1248.0 1603.5,1248.0 1605.0,1248.0 1606.5,1248.1 1608.0,1248.1 1609.5,1248.1 1611.0,1248.1 1612.5,1248.2 1614.0,1248.2 1615.5,1248.2 1617.0,1248.2 1618.5,1248.3 1620.0,1248.3 1621.6,1248.3 1623.1,1248.3 1624.6,1248.4 1626.1,1248.4 1627.6,1248.4 1629.1,1248.4 1630.6,1248.4 1632.1,1248.5 1633.6,1248.5 1635.1,1248.5 1636.6,1248.5 1638.1,1248.6 1639.6,1248.6 1641.1,1248.6 1642.6,1248.6 1644.1,1248.6 1645.6,1248.7 1647.1,1248.7 1648.6,1248.7 1650.1,1248.7 1651.6,1248.7 1653.1,1248.8 1654.6,1248.8 1656.1,1248.8 1657.6,1248.8 1659.1,1248.9 1660.6,1248.9 1662.1,1248.9 1663.6,1248.9 1665.1,1248.9 1666.6,1249.0 1668.1,1249.0 1669.6,1249.0 1671.1,1249.0 1672.6,1249.0 1674.1,1249.1 1675.6,1249.1 1677.1,1249.1 1678.6,1249.1 1680.1,1249.1 1681.6,1249.2 1683.1,1249.2 1684.6,1249.2 1686.1,1249.2 1687.6,1249.2 1689.1,1249.2 1690.6,1249.3 1692.1,1249.3 1693.6,1249.3 1695.1,1249.3 1696.6,1249.3 1698.1,1249.4 1699.6,1249.4 1701.1,1249.4 1702.6,1249.4 1704.1,1249.4 1705.6,1249.5 1707.2,1249.5 1708.7,1249.5 1710.2,1249.5 1711.7,1249.5 1713.2,1249.5 1714.0,1249.6"/>
<polyline stroke="#ff0000" stroke-width="10.5" points="210.5,1129.3 211.4,1129.3 212.9,1129.3 214.4,1129.3 215.9,1129.3 217.4,1129.3 218.9,1129.3 220.4,1129.3 221.9,1129.3 223.4,1129.2 224.9,1129.2 226.4,1129.2 227.9,1129.2 229.4,1129.2 230.9,1129.2 232.4,1129.1 233.9,1129.1 235.4,1129.1 236.9,1129.1 238.4,1129.1 239.9,1129.0 241.4,1129.0 242.9,1129.0 244.4,1128.9 245.9,1128.9 247.4,1128.9 248.9,1128.8 250.4,1128.8 252.0,1128.8 253.5,1128.7 255.0,1128.7 256.5,1128.6 258.0,1128.6 259.5,1128.6 261.0,1128.5 262.5,1128.5 264.0,1128.4 265.5,1128.4 267.0,1128.3 268.5,1128.3 270.0,1128.2 271.5,1128.2 273.0,1128.1 274.5,1128.1 276.0,1128.0 277.5,1128.0 279.0,1127.9 280.5,1127.9 282.0,1127.8 283.5,1127.8 285.0,1127.7 286.5,1127.7 288.0,1127.6 289.5,1127.6 291.0,1127.5 292.5,1127.5 294.0,1127.4 295.5,1127.4 297.0,1127.3 298.5,1127.3 300.0,1127.2 301.5,1127.2 303.0,1127.2 304.5,1127.1 306.0,1127.1 307.5,1127.0 309.0,1127.0 310.5,1126.9 312.0,1126.9 313.5,1126.9 315.0,1126.8 316.5,1126.8 318.0,1126.7 319.5,1126.7 321.0,1126.7 322.5,1126.6 324.0,1126.6 325.5,1126.6 327.0,1126.6 328.5,1126.5 330.0,1126.5 331.5,1126.5 333.0,1126.5 334.5,1126.4 336.0,1126.4 337.6,1126.4 339.1,1126.4 340.6,1126.4 342.1,1126.4 343.6,1126.4 345.1,1126.4 346.6,1126.4 348.1,1126.3 349.6,1126.3 351.1,1126.4 352.6,1126.4 354.1,1126.4 355.6,1126.4 357.1,1126.4 358.6,1126.4 360.1,1126.4 361.6,1126.4 363.1,1126.4 364.6,1126.5 366.1,1126.5 367.6,1126.5 369.1,1126.5 370.6,1126.6 372.1,1126.6 373.6,1126.6 375.1,1126.6 376.6,1126.7 378.1,1126.7 379.6,1126.8 381.1,1126.8 382.6,1126.8 384.1,1126.9 385.6,1126.9 387.1,1127.0 388.6,1127.0 390.1,1127.1 391.6,1127.1 393.1,1127.2 394.6,1127.2 396.1,1127.3 397.6,1127.3 399.1,1127.4 400.6,1127.4 402.1,1127.5 403.6,1127.5 405.1,1127.6 406.6,1127.6 408.1,1127.7 409.6,1127.7 411.1,1127.8 412.6,1127.9 414.1,1127.9 415.6,1128.0 417.1,1128.0 418.6,1128.1 420.1,1128.1 421.6,1128.2 423.2,1128.2 424.7,1128.3 426.2,1128.3 427.7,1128.4 429.2,1128.4 430.7,1128.5 432.2,1128.5 433.7,1128.6 435.2,1128.6 436.7,1128.6 438.2,1128.7 439.7,1128.7 441.2,1128.7 442.7,1128.8 444.2,1128.8 445.7,1128.8 447.2,1128.8 448.7,1128.9 450.2,1128.9 451.7,1128.9 453.2,1128.9 454.7,1128.9 456.2,1128.9 457.7,1128.9 459.2,1128.9 460.7,1128.9 462.2,1128.9 463.7,1128.9 465.2,1128.9 466.7,1128.9 468.2,1128.9 469.7,1128.9 471.2,1128.8 472.7,1128.8 474.2,1128.8 475.7,1128.7 477.2,1128.7 478.7,1128.6 480.2,1128.6 481.7,1128.5 483.2,1128.5 484.7,1128.4 486.2,1128.4 487.7,1128.3 489.2,1128.2 490.7,1128.1 492.2,1128.0 493.7,1128.0 495.2,1127.9 496.7,1127.8 498.2,1127.7 499.7,1127.6 501.2,1127.4 502.7,1127.3 504.2,1127.2 505.7,1127.1 507.2,1126.9 508.8,1126.8 510.3,1126.7 511.8,1126.5 513.3,1126.4 514.8,1126.2 516.3,1126.1 517.8,1125.9 519.3,1125.7 520.8,1125.5 522.3,1125.4 523.8,1125.2 525.3,1125.0 526.8,1124.8 528.3,1124.6 529.8,1124.4 531.3,1124.2 532.8,1124.0 534.3,1123.8 535.8,1123.5 537.3,1123.3 538.8,1123.1 540.3,1122.8 541.8,1122.6 543.3,1122.4 544.8,1122.1 546.3,1121.8 547.8,1121.6 549.3,1121.3 550.8,1121.1 552.3,1120.8 553.8,1120.5 555.3,1120.2 556.8,1120.0 558.3,1119.7 559.8,1119.4 561.3,1119.1 562.8,1118.8 564.3,1118.5 565.8,1118.2 567.3,1117.9 568.8,1117.6 570.3,1117.2 571.8,1116.9 573.3,1116.6 574.8,1116.3 576.3,1116.0 577.8,1115.6 579.3,1115.3 580.8,1115.0 582.3,1114.7 583.8,1114.3 585.3,1114.0 586.8,1113.7 588.3,1113.3 589.8,1113.0 591.3,1112.7 592.8,1112.3 594.4,1112.0 595.9,1111.7 597.4,1111.3 598.9,1111.0 600.4,1110.7 601.9,1110.3 603.4,1110.0 604.9,1109.7 606.4,1109.4 607.9,1109.1 609.4,1108.7 610.9,1108.4 612.4,1108.1 613.9,1107.8 615.4,1107.5 616.9,1107.3 618.4,1107.0 619.9,1106.7 621.4,1106.4 622.9,1106.2 624.4,1105.9 625.9,1105.7 627.4,1105.4 628.9,1105.2 630.4,1105.0 631.9,1104.8 633.4,1104.5 634.9,1104.4 636.4,1104.2 637.9,1104.0 639.4,1103.9 640.9,1103.7 642.4,1103.6 643.9,1103.5 645.4,1103.4 646.9,1103.3 648.4,1103.2 649.9,1103.1 651.4,1103.1 652.9,1103.1 654.4,1103.1 655.9,1103.1 657.4,1103.1 658.9,1103.1 660.4,1103.2 661.9,1103.2 663.4,1103.3 664.9,1103.5 666.4,1103.6 667.9,1103.7 669.4,1103.9 670.9,1104.1 672.4,1104.3 673.9,1104.5 675.4,1104.8 676.9,1105.0 678.4,1105.3 680.0,1105.6 681.5,1105.9 683.0,1106.3 684.5,1106.6 686.0,1107.0 687.5,1107.4 689.0,1107.8 690.5,1108.3 692.0,1108.7 693.5,1109.2 695.0,1109.7 696.5,1110.2 698.0,1110.7 699.5,1111.3 701.0,1111.9 702.5,1112.4 704.0,1113.0 705.5,1113.7 707.0,1114.3 708.5,1114.9 710.0,1115.6 711.5,1116.3 713.0,1116.9 714.5,1117.6 716.0,1118.4 717.5,1119.1 719.0,1119.8 720.5,1120.6 722.0,1121.3 723.5,1122.1 725.0,1122.9 726.5,1123.7 728.0,1124.4 729.5,1125.3 731.0,1126.1 732.5,1126.9 734.0,1127.7 735.5,1128.5 737.0,1129.4 738.5,1130.2 740.0,1131.1 741.5,1131.9 743.0,1132.8 744.5,1133.6 746.0,1134.5 747.5,1135.3 749.0,1136.2 750.5,1137.1 752.0,1137.9 753.5,1138.8 755.0,1139.6 756.5,1140.5 758.0,1141.4 759.5,1142.2 761.0,1143.1 762.5,1144.0 764.0,1144.8 765.6,1145.7 767.1,1146.5 768.6,1147.4 770.1,1148.2 771.6,1149.1 773.1,1149.9 774.6,1150.8 776.1,1151.6 777.6,1152.4 779.1,1153.3 780.6,1154.1 782.1,1154.9 783.6,1155.7 785.1,1156.5 786.6,1157.3 788.1,1158.1 789.6,1158.9 791.1,1159.7 792.6,1160.5 794.1,1161.3 795.6,1162.0 797.1,1162.8 798.6,1163.6 800.1,1164.3 801.6,1165.1 803.1,1165.8 804.6,1166.5 806.1,1167.3 807.6,1168.0 809.1,1168.7 810.6,1169.4 812.1,1170.1 813.6,1170.8 815.1,1171.5 816.6,1172.2 818.1,1172.9 819.6,1173.6 821.1,1174.2 822.6,1174.9 824.1,1175.5 825.6,1176.2 827.1,1176.8 828.6,1177.5 830.1,1178.1 831.6,1178.7 833.1,1179.4 834.6,1180.0 836.1,1180.6 837.6,1181.2 839.1,1181.8 840.6,1182.4 842.1,1182.9 843.6,1183.5 845.1,1184.1 846.6,1184.7 848.1,1185.2 849.6,1185.8 851.2,1186.3 852.7,1186.9 854.2,1187.4 855.7,1187.9 857.2,1188.5 858.7,1189.0 860.2,1189.5 861.7,1190.0 863.2,1190.5 864.7,1191.0 866.2,1191.5 867.7,1192.0 869.2,1192.5 870.7,1193.0 872.2,1193.5 873.7,1193.9 875.2,1194.4 876.7,1194.9 878.2,1195.3 879.7,1195.8 881.2,1196.2 882.7,1196.7 884.2,1197.1 885.7,1197.6 887.2,1198.0 888.7,1198.4 890.2,1198.8 891.7,1199.2 893.2,1199.7 894.7,1200.1 896.2,1200.5 897.7,1200.9 899.2,1201.3 900.7,1201.7 902.2,1202.1 903.7,1202.4 905.2,1202.8 906.7,1203.2 908.2,1203.6 909.7,1203.9 911.2,1204.3 912.7,1204.7 914.2,1205.0 915.7,1205.4 917.2,1205.7 918.7,1206.1 920.2,1206.4 921.7,1206.8 923.2,1207.1 924.7,1207.4 926.2,1207.8 927.7,1208.1 929.2,1208.4 930.7,1208.8 932.2,1209.1 933.7,1209.4 935.2,1209.7 936.8,1210.0 938.3,1210.3 939.8,1210.6 941.3,1210.9 942.8,1211.2 944.3,1211.5 945.8,1211.8 947.3,1212.1 948.8,1212.4 950.3,1212.7 951.8,1213.0 953.3,1213.2 954.8,1213.5 956.3,1213.8 957.8,1214.1 959.3,1214.3 960.8,1214.6 962.3,1214.9 963.8,1215.1 965.3,1215.4 966.8,1215.6 968.3,1215.9 969.8,1216.1 971.3,1216.4 972.8,1216.6 974.3,1216.9 975.8,1217.1 977.3,1217.4 978.8,1217.6 980.3,1217.8 981.8,1218.1 983.3,1218.3 984.8,1218.5 986.3,1218.8 987.8,1219.0 989.3,1219.2 990.8,1219.4 992.3,1219.7 993.8,1219.9 995.3,1220.1 996.8,1220.3 998.3,1220.5 999.8,1220.7 1001.3,1220.9 1002.8,1221.1 1004.3,1221.3 1005.8,1221.5 1007.3,1221.7 1008.8,1221.9 1010.3,1222.1 1011.8,1222.3 1013.3,1222.5 1014.8,1222.7 1016.3,1222.9 1017.8,1223.1 1019.3,1223.3 1020.8,1223.5 1022.4,1223.7 1023.9,1223.9 1025.4,1224.0 1026.9,1224.2 1028.4,1224.4 1029.9,1224.6 1031.4,1224.8 1032.9,1224.9 1034.4,1225.1 1035.9,1225.3 1037.4,1225.4 1038.9,1225.6 1040.4,1225.8 1041.9,1226.0 1043.4,1226.1 1044.9,1226.3 1046.4,1226.4 1047.9,1226.6 1049.4,1226.8 1050.9,1226.9 1052.4,1227.1 1053.9,1227.2 1055.4,1227.4 1056.9,1227.5 1058.4,1227.7 1059.9,1227.9 1061.4,1228.0 1062.9,1228.1 1064.4,1228.3 1065.9,1228.4 1067.4,1228.6 1068.9,1228.7 1070.4,1228.9 1071.9,1229.0 1073.4,1229.2 1074.9,1229.3 1076.4,1229.4 1077.9,1229.6 1079.4,1229.7 1080.9,1229.9 1082.4,1230.0 1083.9,1230.1 1085.4,1230.3 1086.9,1230.4 1088.4,1230.5 1089.9,1230.6 1091.4,1230.8 1092.9,1230.9 1094.4,1231.0 1095.9,1231.2 1097.4,1231.3 1098.9,1231.4 1100.4,1231.5 1101.9,1231.7 1103.4,1231.8 1104.9,1231.9 1106.4,1232.0 1108.0,1232.1 1109.5,1232.3 1111.0,1232.4 1112.5,1232.5 1114.0,1232.6 1115.5,1232.7 1117.0,1232.8 1118.5,1232.9 1120.0,1233.1 1121.5,1233.2 1123.0,1233.3 1124.5,1233.4 1126.0,1233.5 1127.5,1233.6 1129.0,1233.7 1130.5,1233.8 1132.0,1233.9 1133.5,1234.0 1135.0,1234.1 1136.5,1234.2 1138.0,1234.3 1139.5,1234.4 1141.0,1234.5 1142.5,1234.7 1144.0,1234.8 1145.5,1234.9 1147.0,1235.0 1148.5,1235.0 1150.0,1235.1 1151.5,1235.2 1153.0,1235.3 1154.5,1235.4 1156.0,1235.5 1157.5,1235.6 1159.0,1235.7 1160.5,1235.8 1162.0,1235.9 1163.5,1236.0 1165.0,1236.1 1166.5,1236.2 1168.0,1236.3 1169.5,1236.4 1171.0,1236.5 1172.5,1236.5 1174.0,1236.6 1175.5,1236.7 1177.0,1236.8 1178.5,1236.9 1180.0,1237.0 1181.5,1237.1 1183.0,1237.1 1184.5,1237.2 1186.0,1237.3 1187.5,1237.4 1189.0,1237.5 1190.5,1237.6 1192.0,1237.6 1193.6,1237.7 1195.1,1237.8 1196.6,1237.9 1198.1,1238.0 1199.6,1238.0 1201.1,1238.1 1202.6,1238.2 1204.1,1238.3 1205.6,1238.3 1207.1,1238.4 1208.6,1238.5 1210.1,1238.6 1211.6,1238.7 1213.1,1238.7 1214.6,1238.8 1216.1,1238.9 1217.6,1238.9 1219.1,1239.0 1220.6,1239.1 1222.1,1239.2 1223.6,1239.2 1225.1,1239.3 1226.6,1239.4 1228.1,1239.4 1229.6,1239.5 1231.1,1239.6 1232.6,1239.7 1234.1,1239.7 1235.6,1239.8 1237.1,1239.9 1238.6,1239.9 1240.1,1240.0 1241.6,1240.1 1243.1,1240.1 1244.6,1240.2 1246.1,1240.3 1247.6,1240.3 1249.1,1240.4 1250.6,1240.5 1252.1,1240.5 1253.6,1240.6 1255.1,1240.6 1256.6,1240.7 1258.1,1240.8 1259.6,1240.8 1261.1,1240.9 1262.6,1241.0 1264.1,1241.0 1265.6,1241.1 1267.1,1241.1 1268.6,1241.2 1270.1,1241.3 1271.6,1241.3 1273.1,1241.4 1274.6,1241.4 1276.1,1241.5 1277.6,1241.5 1279.2,1241.6 1280.7,1241.7 1282.2,1241.7 1283.7,1241.8 1285.2,1241.8 1286.7,1241.9 1288.2,1241.9 1289.7,1242.0 1291.2,1242.1 1292.7,1242.1 1294.2,1242.2 1295.7,1242.2 1297.2,1242.3 1298.7,1242.3 1300.2,1242.4 1301.7,1242.4 1303.2,1242.5 1304.7,1242.5 1306.2,1242.6 1307.7,1242.6 1309.2,1242.7 1310.7,1242.7 1312.2,1242.8 1313.7,1242.8 1315.2,1242.9 1316.7,1242.9 1318.2,1243.0 1319.7,1243.0 1321.2,1243.1 1322.7,1243.1 1324.2,1243.2 1325.7,1243.2 1327.2,1243.3 1328.7,1243.3 1330.2,1243.4 1331.7,1243.4 1333.2,1243.5 1334.7,1243.5 1336.2,1243.6 1337.7,1243.6 1339.2,1243.7 1340.7,1243.7 1342.2,1243.8 1343.7,1243.8 1345.2,1243.8 1346.7,1243.9 1348.2,1243.9 1349.7,1244.0 1351.2,1244.0 1352.7,1244.1 1354.2,1244.1 1355.7,1244.2 1357.2,1244.2 1358.7,1244.2 1360.2,1244.3 1361.7,1244.3 1363.2,1244.4 1364.8,1244.4 1366.3,1244.5 1367.8,1244.5 1369.3,1244.5 1370.8,1244.6 1372.3,1244.6 1373.8,1244.7 1375.3,1244.7 1376.8,1244.8 1378.3,1244.8 1379.8,1244.8 1381.3,1244.9 1382.8,1244.9 1384.3,1245.0 1385.8,1245.0 1387.3,1245.0 1388.8,1245.1 1390.3,1245.1 1391.8,1245.1 1393.3,1245.2 1394.8,1245.2 1396.3,1245.3 1397.8,1245.3 1399.3,1245.3 1400.8,1245.4 1402.3,1245.4 1403.8,1245.5 1405.3,1245.5 1406.8,1245.5 1408.3,1245.6 1409.8,1245.6 1411.3,1245.6 1412.8,1245.7 1414.3,1245.7 1415.8,1245.7 1417.3,1245.8 1418.8,1245.8 1420.3,1245.8 1421.8,1245.9 1423.3,1245.9 1424.8,1246.0 1426.3,1246.0 1427.8,1246.0 1429.3,1246.1 1430.8,1246.1 1432.3,1246.1 1433.8,1246.2 1435.3,1246.2 1436.8,1246.2 1438.3,1246.3 1439.8,1246.3 1441.3,1246.3 1442.8,1246.4 1444.3,1246.4 1445.8,1246.4 1447.3,1246.5 1448.8,1246.5 1450.4,1246.5 1451.9,1246.6 1453.4,1246.6 1454.9,1246.6 1456.4,1246.7 1457.9,1246.7 1459.4,1246.7 1460.9,1246.7 1462.4,1246.8 1463.9,1246.8 1465.4,1246.8 1466.9,1246.9 1468.4,1246.9 1469.9,1246.9 1471.4,1247.0 1472.9,1247.0 1474.4,1247.0 1475.9,1247.0 1477.4,1247.1 1478.9,1247.1 1480.4,1247.1 1481.9,1247.2 1483.4,1247.2 1484.9,1247.2 1486.4,1247.3 1487.9,1247.3 1489.4,1247.3 1490.9,1247.3 1492.4,1247.4 1493.9,1247.4 1495.4,1247.4 1496.9,1247.5 1498.4,1247.5 1499.9,1247.5 1501.4,1247.5 1502.9,1247.6 1504.4,1247.6 1505.9,1247.6 1507.4,1247.6 1508.9,1247.7 1510.4,1247.7 1511.9,1247.7 1513.4,1247.8 1514.9,1247.8 1516.4,1247.8 1517.9,1247.8 1519.4,1247.9 1520.9,1247.9 1522.4,1247.9 1523.9,1247.9 1525.4,1248.0 1526.9,1248.0 1528.4,1248.0 1529.9,1248.0 1531.4,1248.1 1532.9,1248.1 1534.4,1248.1 1536.0,1248.1 1537.5,1248.2 1539.0,1248.2 1540.5,1248.2 1542.0,1248.2 1543.5,1248.3 1545.0,1248.3 1546.5,1248.3 1548.0,1248.3 1549.5,1248.4 1551.0,1248.4 1552.5,1248.4 1554.0,1248.4 1555.5,1248.5 1557.0,1248.5 1558.5,1248.5 1560.0,1248.5 1561.5,1248.5 1563.0,1248.6 1564.5,1248.6 1566.0,1248.6 1567.5,1248.6 1569.0,1248.7 1570.5,1248.7 1572.0,1248.7 1573.5,1248.7 1575.0,1248.8 1576.5,1248.8 1578.0,1248.8 1579.5,1248.8 1581.0,1248.8 1582.5,1248.9 1584.0,1248.9 1585.5,1248.9 1587.0,1248.9 1588.5,1249.0 1590.0,1249.0 1591.5,1249.0 1593.0,1249.0 1594.5,1249.0 1596.0,1249.1 1597.5,1249.1 1599.0,1249.1 1600.5,1249.1 1602.0,1249.1 1603.5,1249.2 1605.0,1249.2 1606.5,1249.2 1608.0,1249.2 1609.5,1249.2 1611.0,1249.3 1612.5,1249.3 1614.0,1249.3 1615.5,1249.3 1617.0,1249.3 1618.5,1249.4 1620.0,1249.4 1621.6,1249.4 1623.1,1249.4 1624.6,1249.4 1626.1,1249.5 1627.6,1249.5 1629.1,1249.5 1630.6,1249.5 1632.1,1249.5 1633.6,1249.6 1635.1,1249.6 1636.6,1249.6 1638.1,1249.6 1639.6,1249.6 1641.1,1249.7 1642.6,1249.7 1644.1,1249.7 1645.6,1249.7 1647.1,1249.7 1648.6,1249.7 1650.1,1249.8 1651.6,1249.8 1653.1,1249.8 1654.6,1249.8 1656.1,1249.8 1657.6,1249.9 1659.1,1249.9 1660.6,1249.9 1662.1,1249.9 1663.6,1249.9 1665.1,1249.9 1666.6,1250.0 1668.1,1250.0 1669.6,1250.0 1671.1,1250.0 1672.6,1250.0 1674.1,1250.1 1675.6,1250.1 1677.1,1250.1 1678.6,1250.1 1680.1,1250.1 1681.6,1250.1 1683.1,1250.2 1684.6,1250.2 1686.1,1250.2 1687.6,1250.2 1689.1,1250.2 1690.6,1250.2 1692.1,1250.3 1693.6,1250.3 1695.1,1250.3 1696.6,1250.3 1698.1,1250.3 1699.6,1250.3 1701.1,1250.4 1702.6,1250.4 1704.1,1250.4 1705.6,1250.4 1707.2,1250.4 1708.7,1250.4 1710.2,1250.4 1711.7,1250.5 1713.2,1250.5 1714.0,1250.5"/>
<polyline stroke="#00ffff" stroke-width="10.5" points="210.5,1134.4 211.4,1134.4 212.9,1134.4 214.4,1134.4 215.9,1134.4 217.4,1134.3 218.9,1134.3 220.4,1134.3 221.9,1134.2 223.4,1134.2 224.9,1134.1 226.4,1134.1 227.9,1134.0 229.4,1134.0 230.9,1133.9 232.4,1133.8 233.9,1133.7 235.4,1133.6 236.9,1133.5 238.4,1133.4 239.9,1133.3 241.4,1133.2 242.9,1133.1 244.4,1133.0 245.9,1132.8 247.4,1132.7 248.9,1132.6 250.4,1132.4 252.0,1132.3 253.5,1132.1 255.0,1132.0 256.5,1131.8 258.0,1131.6 259.5,1131.4 261.0,1131.3 262.5,1131.1 264.0,1130.9 265.5,1130.7 267.0,1130.5 268.5,1130.3 270.0,1130.1 271.5,1129.9 273.0,1129.7 274.5,1129.5 276.0,1129.3 277.5,1129.0 279.0,1128.8 280.5,1128.6 282.0,1128.4 283.5,1128.1 285.0,1127.9 286.5,1127.7 288.0,1127.4 289.5,1127.2 291.0,1127.0 292.5,1126.7 294.0,1126.5 295.5,1126.2 297.0,1126.0 298.5,1125.7 300.0,1125.5 301.5,1125.2 303.0,1125.0 304.5,1124.8 306.0,1124.5 307.5,1124.3 309.0,1124.0 310.5,1123.8 312.0,1123.6 313.5,1123.3 315.0,1123.1 316.5,1122.9 318.0,1122.6 319.5,1122.4 321.0,1122.2 322.5,1122.0 324.0,1121.7 325.5,1121.5 327.0,1121.3 328.5,1121.1 330.0,1120.9 331.5,1120.7 333.0,1120.5 334.5,1120.4 336.0,1120.2 337.6,1120.0 339.1,1119.8 340.6,1119.7 342.1,1119.5 343.6,1119.4 345.1,1119.3 346.6,1119.1 348.1,1119.0 349.6,1118.9 351.1,1118.8 352.6,1118.7 354.1,1118.6 355.6,1118.5 357.1,1118.4 358.6,1118.4 360.1,1118.3 361.6,1118.3 363.1,1118.2 364.6,1118.2 366.1,1118.1 367.6,1118.1 369.1,1118.1 370.6,1118.1 372.1,1118.1 373.6,1118.1 375.1,1118.2 376.6,1118.2 378.1,1118.3 379.6,1118.3 381.1,1118.4 382.6,1118.4 384.1,1118.5 385.6,1118.6 387.1,1118.7 388.6,1118.8 390.1,1118.9 391.6,1119.0 393.1,1119.1 394.6,1119.2 396.1,1119.4 397.6,1119.5 399.1,1119.6 400.6,1119.8 402.1,1119.9 403.6,1120.1 405.1,1120.3 406.6,1120.4 408.1,1120.6 409.6,1120.8 411.1,1121.0 412.6,1121.2 414.1,1121.4 415.6,1121.6 417.1,1121.7 418.6,1122.0 420.1,1122.2 421.6,1122.4 423.2,1122.6 424.7,1122.8 426.2,1123.0 427.7,1123.2 429.2,1123.4 430.7,1123.6 432.2,1123.8 433.7,1124.1 435.2,1124.3 436.7,1124.5 438.2,1124.7 439.7,1124.9 441.2,1125.1 442.7,1125.4 444.2,1125.6 445.7,1125.8 447.2,1126.0 448.7,1126.2 450.2,1126.4 451.7,1126.6 453.2,1126.8 454.7,1127.0 456.2,1127.2 457.7,1127.4 459.2,1127.6 460.7,1127.8 462.2,1128.0 463.7,1128.2 465.2,1128.3 466.7,1128.5 468.2,1128.7 469.7,1128.9 471.2,1129.0 472.7,1129.2 474.2,1129.3 475.7,1129.5 477.2,1129.6 478.7,1129.8 480.2,1129.9 481.7,1130.1 483.2,1130.2 484.7,1130.3 486.2,1130.4 487.7,1130.6 489.2,1130.7 490.7,1130.8 492.2,1130.9 493.7,1131.0 495.2,1131.1 496.7,1131.2 498.2,1131.2 499.7,1131.3 501.2,1131.4 502.7,1131.5 504.2,1131.5 505.7,1131.6 507.2,1131.6 508.8,1131.7 510.3,1131.7 511.8,1131.7 513.3,1131.8 514.8,1131.8 516.3,1131.8 517.8,1131.8 519.3,1131.8 520.8,1131.8 522.3,1131.8 523.8,1131.8 525.3,1131.8 526.8,1131.8 528.3,1131.8 529.8,1131.7 531.3,1131.7 532.8,1131.6 534.3,1131.6 535.8,1131.6 537.3,1131.5 538.8,1131.4 540.3,1131.4 541.8,1131.3 543.3,1131.2 544.8,1131.1 546.3,1131.0 547.8,1130.9 549.3,1130.8 550.8,1130.7 552.3,1130.6 553.8,1130.5 555.3,1130.4 556.8,1130.3 558.3,1130.1 559.8,1130.0 561.3,1129.9 562.8,1129.7 564.3,1129.6 565.8,1129.4 567.3,1129.3 568.8,1129.1 570.3,1129.0 571.8,1128.8 573.3,1128.6 574.8,1128.4 576.3,1128.3 577.8,1128.1 579.3,1127.9 580.8,1127.7 582.3,1127.5 583.8,1127.3 585.3,1127.1 586.8,1126.9 588.3,1126.7 589.8,1126.5 591.3,1126.3 592.8,1126.0 594.4,1125.8 595.9,1125.6 597.4,1125.4 598.9,1125.2 600.4,1124.9 601.9,1124.7 603.4,1124.5 604.9,1124.2 606.4,1124.0 607.9,1123.8 609.4,1123.5 610.9,1123.3 612.4,1123.1 613.9,1122.8 615.4,1122.6 616.9,1122.4 618.4,1122.1 619.9,1121.9 621.4,1121.6 622.9,1121.4 624.4,1121.2 625.9,1121.0 627.4,1120.7 628.9,1120.5 630.4,1120.3 631.9,1120.1 633.4,1119.9 634.9,1119.6 636.4,1119.4 637.9,1119.2 639.4,1119.0 640.9,1118.8 642.4,1118.7 643.9,1118.5 645.4,1118.3 646.9,1118.1 648.4,1118.0 649.9,1117.8 651.4,1117.7 652.9,1117.5 654.4,1117.4 655.9,1117.3 657.4,1117.2 658.9,1117.1 660.4,1117.0 661.9,1116.9 663.4,1116.8 664.9,1116.7 666.4,1116.7 667.9,1116.6 669.4,1116.6 670.9,1116.6 672.4,1116.6 673.9,1116.6 675.4,1116.6 676.9,1116.6 678.4,1116.7 680.0,1116.8 681.5,1116.8 683.0,1116.9 684.5,1117.0 686.0,1117.1 687.5,1117.3 689.0,1117.4 690.5,1117.6 692.0,1117.8 693.5,1118.0 695.0,1118.2 696.5,1118.4 698.0,1118.6 699.5,1118.9 701.0,1119.2 702.5,1119.5 704.0,1119.8 705.5,1120.1 707.0,1120.4 708.5,1120.8 710.0,1121.1 711.5,1121.5 713.0,1121.9 714.5,1122.3 716.0,1122.8 717.5,1123.2 719.0,1123.7 720.5,1124.1 722.0,1124.6 723.5,1125.1 725.0,1125.6 726.5,1126.2 728.0,1126.7 729.5,1127.3 731.0,1127.8 732.5,1128.4 734.0,1129.0 735.5,1129.6 737.0,1130.2 738.5,1130.8 740.0,1131.5 741.5,1132.1 743.0,1132.8 744.5,1133.4 746.0,1134.1 747.5,1134.8 749.0,1135.5 750.5,1136.2 752.0,1136.9 753.5,1137.6 755.0,1138.3 756.5,1139.0 758.0,1139.7 759.5,1140.5 761.0,1141.2 762.5,1141.9 764.0,1142.7 765.6,1143.4 767.1,1144.2 768.6,1144.9 770.1,1145.7 771.6,1146.4 773.1,1147.2 774.6,1147.9 776.1,1148.7 777.6,1149.4 779.1,1150.2 780.6,1151.0 782.1,1151.7 783.6,1152.5 785.1,1153.2 786.6,1154.0 788.1,1154.7 789.6,1155.5 791.1,1156.2 792.6,1157.0 794.1,1157.7 795.6,1158.5 797.1,1159.2 798.6,1160.0 800.1,1160.7 801.6,1161.4 803.1,1162.1 804.6,1162.9 806.1,1163.6 807.6,1164.3 809.1,1165.0 810.6,1165.7 812.1,1166.4 813.6,1167.1 815.1,1167.8 816.6,1168.5 818.1,1169.2 819.6,1169.9 821.1,1170.6 822.6,1171.2 824.1,1171.9 825.6,1172.6 827.1,1173.2 828.6,1173.9 830.1,1174.5 831.6,1175.2 833.1,1175.8 834.6,1176.5 836.1,1177.1 837.6,1177.7 839.1,1178.3 840.6,1178.9 842.1,1179.5 843.6,1180.1 845.1,1180.7 846.6,1181.3 848.1,1181.9 849.6,1182.5 851.2,1183.1 852.7,1183.6 854.2,1184.2 855.7,1184.8 857.2,1185.3 858.7,1185.9 860.2,1186.4 861.7,1187.0 863.2,1187.5 864.7,1188.0 866.2,1188.6 867.7,1189.1 869.2,1189.6 870.7,1190.1 872.2,1190.6 873.7,1191.1 875.2,1191.6 876.7,1192.1 878.2,1192.6 879.7,1193.1 881.2,1193.6 882.7,1194.0 884.2,1194.5 885.7,1195.0 887.2,1195.4 888.7,1195.9 890.2,1196.3 891.7,1196.8 893.2,1197.2 894.7,1197.7 896.2,1198.1 897.7,1198.5 899.2,1198.9 900.7,1199.4 902.2,1199.8 903.7,1200.2 905.2,1200.6 906.7,1201.0 908.2,1201.4 909.7,1201.8 911.2,1202.2 912.7,1202.6 914.2,1203.0 915.7,1203.4 917.2,1203.7 918.7,1204.1 920.2,1204.5 921.7,1204.9 923.2,1205.2 924.7,1205.6 926.2,1205.9 927.7,1206.3 929.2,1206.7 930.7,1207.0 932.2,1207.3 933.7,1207.7 935.2,1208.0 936.8,1208.4 938.3,1208.7 939.8,1209.0 941.3,1209.4 942.8,1209.7 944.3,1210.0 945.8,1210.3 947.3,1210.6 948.8,1210.9 950.3,1211.2 951.8,1211.6 953.3,1211.9 954.8,1212.2 956.3,1212.5 957.8,1212.7 959.3,1213.0 960.8,1213.3 962.3,1213.6 963.8,1213.9 965.3,1214.2 966.8,1214.5 968.3,1214.7 969.8,1215.0 971.3,1215.3 972.8,1215.6 974.3,1215.8 975.8,1216.1 977.3,1216.4 978.8,1216.6 980.3,1216.9 981.8,1217.1 983.3,1217.4 984.8,1217.6 986.3,1217.9 987.8,1218.1 989.3,1218.4 990.8,1218.6 992.3,1218.9 993.8,1219.1 995.3,1219.3 996.8,1219.6 998.3,1219.8 999.8,1220.0 1001.3,1220.3 1002.8,1220.5 1004.3,1220.7 1005.8,1220.9 1007.3,1221.1 1008.8,1221.4 1010.3,1221.6 1011.8,1221.8 1013.3,1222.0 1014.8,1222.2 1016.3,1222.4 1017.8,1222.6 1019.3,1222.8 1020.8,1223.0 1022.4,1223.3 1023.9,1223.5 1025.4,1223.7 1026.9,1223.8 1028.4,1224.0 1029.9,1224.2 1031.4,1224.4 1032.9,1224.6 1034.4,1224.8 1035.9,1225.0 1037.4,1225.2 1038.9,1225.4 1040.4,1225.5 1041.9,1225.7 1043.4,1225.9 1044.9,1226.1 1046.4,1226.3 1047.9,1226.4 1049.4,1226.6 1050.9,1226.8 1052.4,1227.0 1053.9,1227.1 1055.4,1227.3 1056.9,1227.5 1058.4,1227.6 1059.9,1227.8 1061.4,1227.9 1062.9,1228.1 1064.4,1228.3 1065.9,1228.4 1067.4,1228.6 1068.9,1228.7 1070.4,1228.9 1071.9,1229.0 1073.4,1229.2 1074.9,1229.3 1076.4,1229.5 1077.9,1229.6 1079.4,1229.8 1080.9,1229.9 1082.4,1230.1 1083.9,1230.2 1085.4,1230.3 1086.9,1230.5 1088.4,1230.6 1089.9,1230.7 1091.4,1230.9 1092.9,1231.0 1094.4,1231.1 1095.9,1231.3 1097.4,1231.4 1098.9,1231.5 1100.4,1231.7 1101.9,1231.8 1103.4,1231.9 1104.9,1232.0 1106.4,1232.2 1108.0,1232.3 1109.5,1232.4 1111.0,1232.5 1112.5,1232.6 1114.0,1232.7 1115.5,1232.9 1117.0,1233.0 1118.5,1233.1 1120.0,1233.2 1121.5,1233.3 1123.0,1233.4 1124.5,1233.5 1126.0,1233.6 1127.5,1233.7 1129.0,1233.9 1130.5,1234.0 1132.0,1234.1 1133.5,1234.2 1135.0,1234.3 1136.5,1234.4 1138.0,1234.5 1139.5,1234.6 1141.0,1234.7 1142.5,1234.8 1144.0,1234.9 1145.5,1235.0 1147.0,1235.1 1148.5,1235.2 1150.0,1235.3 1151.5,1235.3 1153.0,1235.4 1154.5,1235.5 1156.0,1235.6 1157.5,1235.7 1159.0,1235.8 1160.5,1235.9 1162.0,1236.0 1163.5,1236.1 1165.0,1236.2 1166.5,1236.2 1168.0,1236.3 1169.5,1236.4 1171.0,1236.5 1172.5,1236.6 1174.0,1236.7 1175.5,1236.7 1177.0,1236.8 1178.5,1236.9 1180.0,1237.0 1181.5,1237.1 1183.0,1237.1 1184.5,1237.2 1186.0,1237.3 1187.5,1237.4 1189.0,1237.4 1190.5,1237.5 1192.0,1237.6 1193.6,1237.7 1195.1,1237.8 1196.6,1237.8 1198.1,1237.9 1199.6,1238.0 1201.1,1238.0 1202.6,1238.1 1204.1,1238.2 1205.6,1238.3 1207.1,1238.3 1208.6,1238.4 1210.1,1238.5 1211.6,1238.5 1213.1,1238.6 1214.6,1238.7 1216.1,1238.7 1217.6,1238.8 1219.1,1238.9 1220.6,1238.9 1222.1,1239.0 1223.6,1239.1 1225.1,1239.1 1226.6,1239.2 1228.1,1239.3 1229.6,1239.3 1231.1,1239.4 1232.6,1239.5 1234.1,1239.5 1235.6,1239.6 1237.1,1239.6 1238.6,1239.7 1240.1,1239.8 1241.6,1239.8 1243.1,1239.9 1244.6,1240.0 1246.1,1240.0 1247.6,1240.1 1249.1,1240.1 1250.6,1240.2 1252.1,1240.2 1253.6,1240.3 1255.1,1240.4 1256.6,1240.4 1258.1,1240.5 1259.6,1240.5 1261.1,1240.6 1262.6,1240.6 1264.1,1240.7 1265.6,1240.8 1267.1,1240.8 1268.6,1240.9 1270.1,1240.9 1271.6,1241.0 1273.1,1241.0 1274.6,1241.1 1276.1,1241.1 1277.6,1241.2 1279.2,1241.2 1280.7,1241.3 1282.2,1241.4 1283.7,1241.4 1285.2,1241.5 1286.7,1241.5 1288.2,1241.6 1289.7,1241.6 1291.2,1241.7 1292.7,1241.7 1294.2,1241.8 1295.7,1241.8 1297.2,1241.9 1298.7,1241.9 1300.2,1242.0 1301.7,1242.0 1303.2,1242.1 1304.7,1242.1 1306.2,1242.2 1307.7,1242.2 1309.2,1242.3 1310.7,1242.3 1312.2,1242.3 1313.7,1242.4 1315.2,1242.4 1316.7,1242.5 1318.2,1242.5 1319.7,1242.6 1321.2,1242.6 1322.7,1242.7 1324.2,1242.7 1325.7,1242.8 1327.2,1242.8 1328.7,1242.9 1330.2,1242.9 1331.7,1242.9 1333.2,1243.0 1334.7,1243.0 1336.2,1243.1 1337.7,1243.1 1339.2,1243.2 1340.7,1243.2 1342.2,1243.3 1343.7,1243.3 1345.2,1243.3 1346.7,1243.4 1348.2,1243.4 1349.7,1243.5 1351.2,1243.5 1352.7,1243.5 1354.2,1243.6 1355.7,1243.6 1357.2,1243.7 1358.7,1243.7 1360.2,1243.8 1361.7,1243.8 1363.2,1243.8 1364.8,1243.9 1366.3,1243.9 1367.8,1244.0 1369.3,1244.0 1370.8,1244.0 1372.3,1244.1 1373.8,1244.1 1375.3,1244.1 1376.8,1244.2 1378.3,1244.2 1379.8,1244.3 1381.3,1244.3 1382.8,1244.3 1384.3,1244.4 1385.8,1244.4 1387.3,1244.5 1388.8,1244.5 1390.3,1244.5 1391.8,1244.6 1393.3,1244.6 1394.8,1244.6 1396.3,1244.7 1397.8,1244.7 1399.3,1244.7 1400.8,1244.8 1402.3,1244.8 1403.8,1244.9 1405.3,1244.9 1406.8,1244.9 1408.3,1245.0 1409.8,1245.0 1411.3,1245.0 1412.8,1245.1 1414.3,1245.1 1415.8,1245.1 1417.3,1245.2 1418.8,1245.2 1420.3,1245.2 1421.8,1245.3 1423.3,1245.3 1424.8,1245.3 1426.3,1245.4 1427.8,1245.4 1429.3,1245.4 1430.8,1245.5 1432.3,1245.5 1433.8,1245.5 1435.3,1245.6 1436.8,1245.6 1438.3,1245.6 1439.8,1245.7 1441.3,1245.7 1442.8,1245.7 1444.3,1245.8 1445.8,1245.8 1447.3,1245.8 1448.8,1245.9 1450.4,1245.9 1451.9,1245.9 1453.4,1245.9 1454.9,1246.0 1456.4,1246.0 1457.9,1246.0 1459.4,1246.1 1460.9,1246.1 1462.4,1246.1 1463.9,1246.2 1465.4,1246.2 1466.9,1246.2 1468.4,1246.3 1469.9,1246.3 1471.4,1246.3 1472.9,1246.3 1474.4,1246.4 1475.9,1246.4 1477.4,1246.4 1478.9,1246.5 1480.4,1246.5 1481.9,1246.5 1483.4,1246.5 1484.9,1246.6 1486.4,1246.6 1487.9,1246.6 1489.4,1246.7 1490.9,1246.7 1492.4,1246.7 1493.9,1246.7 1495.4,1246.8 1496.9,1246.8 1498.4,1246.8 1499.9,1246.8 1501.4,1246.9 1502.9,1246.9 1504.4,1246.9 1505.9,1247.0 1507.4,1247.0 1508.9,1247.0 1510.4,1247.0 1511.9,1247.1 1513.4,1247.1 1514.9,1247.1 1516.4,1247.1 1517.9,1247.2 1519.4,1247.2 1520.9,1247.2 1522.4,1247.2 1523.9,1247.3 1525.4,1247.3 1526.9,1247.3 1528.4,1247.3 1529.9,1247.4 1531.4,1247.4 1532.9,1247.4 1534.4,1247.4 1536.0,1247.5 1537.5,1247.5 1539.0,1247.5 1540.5,1247.5 1542.0,1247.6 1543.5,1247.6 1545.0,1247.6 1546.5,1247.6 1548.0,1247.7 1549.5,1247.7 1551.0,1247.7 1552.5,1247.7 1554.0,1247.8 1555.5,1247.8 1557.0,1247.8 1558.5,1247.8 1560.0,1247.8 1561.5,1247.9 1563.0,1247.9 1564.5,1247.9 1566.0,1247.9 1567.5,1248.0 1569.0,1248.0 1570.5,1248.0 1572.0,1248.0 1573.5,1248.1 1575.0,1248.1 1576.5,1248.1 1578.0,1248.1 1579.5,1248.1 1581.0,1248.2 1582.5,1248.2 1584.0,1248.2 1585.5,1248.2 1587.0,1248.3 1588.5,1248.3 1590.0,1248.3 1591.5,1248.3 1593.0,1248.3 1594.5,1248.4 1596.0,1248.4 1597.5,1248.4 1599.0,1248.4 1600.5,1248.4 1602.0,1248.5 1603.5,1248.5 1605.0,1248.5 1606.5,1248.5 1608.0,1248.5 1609.5,1248.6 1611.0,1248.6 1612.5,1248.6 1614.0,1248.6 1615.5,1248.6 1617.0,1248.7 1618.5,1248.7 1620.0,1248.7 1621.6,1248.7 1623.1,1248.7 1624.6,1248.8 1626.1,1248.8 1627.6,1248.8 1629.1,1248.8 1630.6,1248.8 1632.1,1248.9 1633.6,1248.9 1635.1,1248.9 1636.6,1248.9 1638.1,1248.9 1639.6,1249.0 1641.1,1249.0 1642.6,1249.0 1644.1,1249.0 1645.6,1249.0 1647.1,1249.1 1648.6,1249.1 1650.1,1249.1 1651.6,1249.1 1653.1,1249.1 1654.6,1249.1 1656.1,1249.2 1657.6,1249.2 1659.1,1249.2 1660.6,1249.2 1662.1,1249.2 1663.6,1249.3 1665.1,1249.3 1666.6,1249.3 1668.1,1249.3 1669.6,1249.3 1671.1,1249.3 1672.6,1249.4 1674.1,1249.4 1675.6,1249.4 1677.1,1249.4 1678.6,1249.4 1680.1,1249.4 1681.6,1249.5 1683.1,1249.5 1684.6,1249.5 1686.1,1249.5 1687.6,1249.5 1689.1,1249.6 1690.6,1249.6 1692.1,1249.6 1693.6,1249.6 1695.1,1249.6 1696.6,1249.6 1698.1,1249.7 1699.6,1249.7 1701.1,1249.7 1702.6,1249.7 1704.1,1249.7 1705.6,1249.7 1707.2,1249.7 1708.7,1249.8 1710.2,1249.8 1711.7,1249.8 1713.2,1249.8 1714.0,1249.8"/>
</g>
<rect x="1284.5" y="88.5" width="627" height="570" fill="#ffffff" stroke="#262626" stroke-width="3" shape-rendering="crispEdges"/>
<rect x="1300" y="124.7" width="158" height="10.5" fill="#000000" shape-rendering="crispEdges"/><rect x="1300" y="194.3" width="158" height="10.5" fill="#00ff00" shape-rendering="crispEdges"/><rect x="1300" y="265.0" width="158" height="8.3" fill="#ff00ff" shape-rendering="crispEdges"/><rect x="1300" y="333.6" width="158" height="10.5" fill="#edb120" shape-rendering="crispEdges"/><rect x="1300" y="403.2" width="158" height="10.5" fill="#0000ff" shape-rendering="crispEdges"/><rect x="1300" y="472.9" width="158" height="10.5" fill="#7e2f8e" shape-rendering="crispEdges"/><rect x="1300" y="542.5" width="158" height="10.5" fill="#ff0000" shape-rendering="crispEdges"/><rect x="1300" y="612.1" width="158" height="10.5" fill="#00ffff" shape-rendering="crispEdges"/>
<g font-size="61.1" fill="#000000" style="font-kerning:none"><text x="1470.6" y="151.3" textLength="287.0" lengthAdjust="spacingAndGlyphs">Voigt-type</text><text x="1469.4" y="220.9" textLength="243.6" lengthAdjust="spacingAndGlyphs">Ren-type</text><text x="1471.2" y="290.6" textLength="216.5" lengthAdjust="spacingAndGlyphs">TE-type</text><text x="1467.6" y="360.2" textLength="326.1" lengthAdjust="spacingAndGlyphs">NS-TE-type</text><text x="1467.6" y="429.9" textLength="377.9" lengthAdjust="spacingAndGlyphs">NS-Shen-type</text><text x="1467.6" y="499.5" textLength="403.9" lengthAdjust="spacingAndGlyphs">NS-Wang-type</text><text x="1468.9" y="569.1" textLength="420.1" lengthAdjust="spacingAndGlyphs">INS-type (FPT)</text><text x="1468.9" y="638.8" textLength="426.8" lengthAdjust="spacingAndGlyphs">INS-type (PSO)</text></g>
<g font-size="69.8" fill="#262626" style="font-kerning:none"><text x="222.1" y="1343.3" textLength="36.8" lengthAdjust="spacingAndGlyphs">0</text><text x="654.0" y="1343.0" textLength="28.4" lengthAdjust="spacingAndGlyphs">1</text><text x="1076.5" y="1343.0" textLength="39.9" lengthAdjust="spacingAndGlyphs">2</text><text x="1505.9" y="1343.3" textLength="32.8" lengthAdjust="spacingAndGlyphs">3</text><text x="1934.7" y="1343.0" textLength="34.5" lengthAdjust="spacingAndGlyphs">4</text><text x="176.4" y="1080.0" textLength="39.9" lengthAdjust="spacingAndGlyphs">2</text><text x="178.6" y="878.9" textLength="34.4" lengthAdjust="spacingAndGlyphs">4</text><text x="177.8" y="678.1" textLength="36.3" lengthAdjust="spacingAndGlyphs">6</text><text x="179.4" y="477.4" textLength="34.2" lengthAdjust="spacingAndGlyphs">8</text><text x="143.8" y="276.1" textLength="70.8" lengthAdjust="spacingAndGlyphs">10</text><text x="143.7" y="74.9" textLength="72.2" lengthAdjust="spacingAndGlyphs">12</text></g>
<text font-size="76.8" fill="#000000" text-anchor="middle" transform="translate(1097.2 1430.5) scale(1.22 1)">λ</text>
<text transform="translate(94.2 1013.9) rotate(-90) scale(0.9016 1)" font-size="85" fill="#262626" style="font-kerning:none" xml:space="preserve"><tspan x="-5.7" y="0">Stroke </tspan><tspan x="236.4" y="0">(</tspan><tspan x="263.7" y="0" font-style="italic">x</tspan><tspan x="307.3" y="17" font-size="47">2</tspan><tspan x="349.9" y="-4.5">-</tspan><tspan x="376.5" y="-4.5" font-style="italic">x</tspan><tspan x="421.0" y="17" font-size="47">1</tspan><tspan x="460.3" y="0">)</tspan><tspan x="489.0" y="0">/</tspan><tspan x="512.8" y="0">(</tspan><tspan x="539.8" y="0">F</tspan><tspan x="587.5" y="0">/</tspan><tspan x="612.4" y="0" font-style="italic">k</tspan><tspan x="651.8" y="17" font-size="47">1</tspan><tspan x="693.3" y="0">)</tspan></text>
</svg></body></html>
